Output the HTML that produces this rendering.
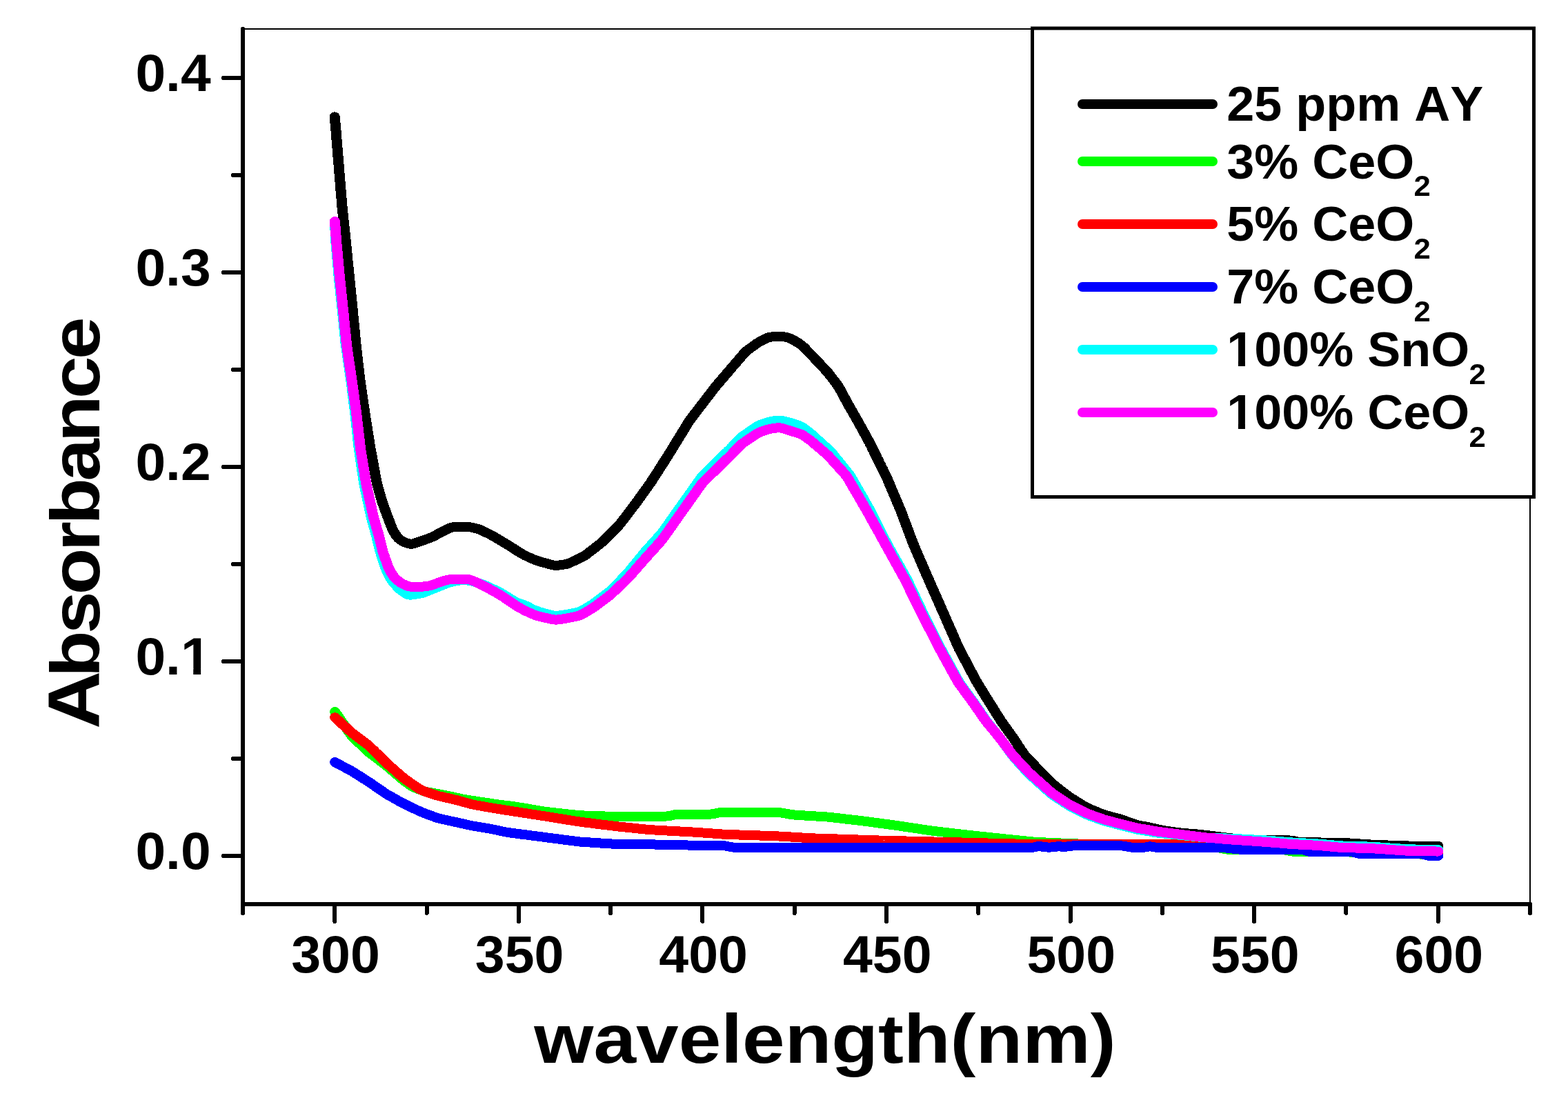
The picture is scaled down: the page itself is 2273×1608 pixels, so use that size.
<!DOCTYPE html>
<html lang="en"><head><meta charset="utf-8"><title>UV-Vis absorbance spectra</title>
<style>
html,body{margin:0;padding:0;background:#fff;}
body{width:2273px;height:1608px;overflow:hidden;}
svg{display:block;position:absolute;left:0;top:0;}
text{font-family:"Liberation Sans",sans-serif;font-weight:bold;fill:#000;font-kerning:none;white-space:pre;}
.ax{stroke:#000;fill:none;stroke-linecap:round;shape-rendering:crispEdges;}
.cv{fill:none;stroke-linejoin:round;stroke-linecap:round;shape-rendering:crispEdges;}
</style></head><body>
<svg width="2273" height="1608" viewBox="0 0 2273 1608">
<rect x="0" y="0" width="2273" height="1608" fill="#ffffff"/>
<g class="ax" stroke-width="2" style="stroke-linecap:butt">
<line x1="352" y1="42" x2="2219" y2="42"/>
<line x1="2218" y1="42" x2="2218" y2="1311"/>
</g>
<g class="cv" stroke-width="14.0" transform="scale(1.075,1)">
<path d="M451.4,169.4 L451.6,171.9 L451.8,174.4 L452.0,176.9 L452.2,179.4 L452.4,181.9 L452.6,184.4 L452.8,186.9 L453.0,189.3 L453.2,191.8 L453.3,194.3 L453.5,196.8 L453.7,199.3 L453.9,201.8 L454.1,204.3 L454.3,206.8 L454.5,209.3 L454.7,211.8 L454.9,214.3 L455.1,216.8 L455.2,219.3 L455.4,221.8 L455.6,224.3 L455.8,226.8 L456.0,229.2 L456.2,231.7 L456.4,234.2 L456.6,236.7 L456.8,239.2 L457.0,241.7 L457.1,244.2 L457.3,246.7 L457.5,249.2 L457.7,251.7 L457.9,254.2 L458.1,256.7 L458.3,259.2 L458.5,261.7 L458.7,264.2 L458.9,266.7 L459.0,269.1 L459.2,271.6 L459.4,274.1 L459.6,276.6 L459.8,279.1 L460.0,281.6 L460.2,284.1 L460.4,286.6 L460.6,289.1 L460.8,291.6 L460.9,294.1 L461.1,296.6 L461.3,299.1 L461.6,301.6 L461.8,304.0 L462.0,306.5 L462.3,309.0 L462.5,311.5 L462.8,314.0 L463.0,316.5 L463.2,319.0 L463.5,321.5 L463.7,324.0 L464.0,326.4 L464.2,328.9 L464.5,331.4 L464.7,333.9 L465.0,336.4 L465.2,338.9 L465.4,341.4 L465.7,343.9 L465.9,346.3 L466.2,348.8 L466.4,351.3 L466.6,353.8 L466.9,356.3 L467.1,358.8 L467.3,361.3 L467.6,363.8 L467.8,366.3 L468.0,368.8 L468.3,371.2 L468.5,373.7 L468.7,376.2 L468.9,378.7 L469.2,381.2 L469.4,383.7 L469.6,386.2 L469.9,388.7 L470.1,391.2 L470.3,393.6 L470.6,396.1 L470.8,398.6 L471.0,401.1 L471.3,403.6 L471.5,406.1 L471.7,408.6 L472.0,411.1 L472.2,413.6 L472.4,416.1 L472.7,418.5 L472.9,421.0 L473.1,423.5 L473.4,426.0 L473.6,428.5 L473.8,431.0 L474.0,433.5 L474.3,436.0 L474.5,438.5 L474.7,441.0 L475.0,443.4 L475.2,445.9 L475.4,448.4 L475.7,450.9 L475.9,453.4 L476.1,455.9 L476.3,458.4 L476.5,460.9 L476.8,463.4 L477.0,465.9 L477.2,468.3 L477.4,470.8 L477.6,473.3 L477.9,475.8 L478.1,478.3 L478.3,480.8 L478.5,483.3 L478.7,485.8 L479.0,488.3 L479.2,490.8 L479.4,493.3 L479.6,495.7 L479.9,498.2 L480.1,500.7 L480.3,503.2 L480.6,505.7 L480.9,508.2 L481.1,510.7 L481.4,513.2 L481.7,515.6 L481.9,518.1 L482.2,520.6 L482.4,523.1 L482.7,525.6 L483.0,528.1 L483.2,530.6 L483.5,533.0 L483.8,535.5 L484.0,538.0 L484.3,540.5 L484.6,543.0 L484.8,545.5 L485.1,548.0 L485.4,550.4 L485.7,552.9 L486.0,555.4 L486.4,557.9 L486.7,560.3 L487.0,562.8 L487.4,565.3 L487.7,567.8 L488.1,570.2 L488.4,572.7 L488.7,575.2 L489.1,577.7 L489.4,580.2 L489.7,582.6 L490.1,585.1 L490.4,587.6 L490.7,590.1 L491.1,592.5 L491.4,595.0 L491.8,597.5 L492.1,600.0 L492.5,602.4 L492.8,604.9 L493.2,607.4 L493.5,609.8 L493.9,612.3 L494.3,614.8 L494.6,617.3 L495.0,619.7 L495.4,622.2 L495.7,624.7 L496.1,627.1 L496.4,629.6 L496.8,632.1 L497.2,634.6 L497.5,637.0 L497.9,639.5 L498.3,642.0 L498.6,644.4 L499.0,646.9 L499.4,649.4 L499.8,651.8 L500.2,654.3 L500.6,656.8 L501.0,659.2 L501.5,661.7 L501.9,664.1 L502.3,666.6 L502.7,669.1 L503.2,671.5 L503.6,674.0 L504.0,676.4 L504.4,678.9 L504.9,681.4 L505.3,683.8 L505.7,686.3 L506.1,688.7 L506.6,691.2 L507.0,693.7 L507.4,696.1 L507.9,698.6 L508.4,701.0 L509.0,703.4 L509.6,705.8 L510.2,708.3 L510.8,710.7 L511.5,713.1 L512.1,715.5 L512.7,717.9 L513.3,720.3 L514.0,722.7 L514.6,725.1 L515.4,727.5 L516.1,729.8 L516.9,732.2 L517.7,734.6 L518.5,736.9 L519.3,739.3 L520.1,741.6 L520.9,744.0 L521.7,746.3 L522.5,748.7 L523.3,751.0 L524.1,753.3 L525.0,755.7 L525.8,758.0 L526.7,760.3 L527.5,762.7 L528.4,765.0 L529.3,767.3 L530.3,769.5 L531.4,771.7 L532.6,773.8 L533.9,775.9 L535.3,777.9 L536.7,779.8 L538.4,781.5 L540.2,783.0 L542.2,784.3 L544.2,785.5 L546.3,786.5 L548.5,787.4 L550.7,788.1 L552.9,788.6 L555.1,788.7 L557.3,788.3 L559.5,787.6 L561.7,786.8 L563.9,786.0 L566.1,785.1 L568.3,784.3 L570.5,783.5 L572.7,782.7 L574.9,781.9 L577.1,781.1 L579.3,780.2 L581.4,779.3 L583.5,778.2 L585.6,777.1 L587.7,775.9 L589.7,774.7 L591.8,773.5 L593.8,772.3 L595.9,771.2 L597.9,770.0 L600.0,768.9 L602.1,767.7 L604.2,766.7 L606.3,765.7 L608.5,765.0 L610.8,764.4 L613.0,764.2 L615.4,764.1 L617.7,764.1 L620.0,764.1 L622.3,764.1 L624.7,764.1 L627.0,764.1 L629.3,764.1 L631.6,764.2 L634.0,764.4 L636.2,764.8 L638.5,765.3 L640.8,765.9 L643.0,766.5 L645.2,767.2 L647.4,768.1 L649.5,769.1 L651.6,770.2 L653.7,771.3 L655.8,772.3 L657.9,773.4 L660.0,774.5 L662.1,775.6 L664.1,776.8 L666.2,778.1 L668.2,779.4 L670.2,780.6 L672.1,781.9 L674.1,783.2 L676.1,784.5 L678.1,785.8 L680.1,787.1 L682.1,788.4 L684.1,789.7 L686.1,791.0 L688.1,792.3 L690.0,793.7 L692.0,795.0 L693.9,796.4 L695.9,797.7 L697.9,799.1 L699.8,800.4 L701.8,801.7 L703.8,803.0 L705.9,804.2 L707.9,805.4 L710.0,806.4 L712.1,807.5 L714.2,808.5 L716.4,809.5 L718.5,810.5 L720.6,811.5 L722.8,812.4 L725.0,813.2 L727.2,813.9 L729.5,814.7 L731.7,815.4 L733.9,816.0 L736.2,816.7 L738.4,817.3 L740.7,818.0 L742.9,818.6 L745.2,819.2 L747.4,819.7 L749.7,819.9 L752.0,819.8 L754.3,819.5 L756.6,819.2 L758.9,818.8 L761.2,818.4 L763.5,818.0 L765.7,817.3 L767.9,816.4 L770.0,815.4 L772.1,814.3 L774.2,813.2 L776.3,812.1 L778.4,811.1 L780.5,810.0 L782.6,808.9 L784.7,807.8 L786.7,806.6 L788.7,805.4 L790.6,804.0 L792.5,802.5 L794.3,800.9 L796.2,799.4 L798.0,797.9 L799.8,796.3 L801.7,794.8 L803.5,793.3 L805.3,791.7 L807.2,790.2 L809.0,788.7 L810.8,787.1 L812.5,785.4 L814.2,783.7 L815.9,781.9 L817.5,780.2 L819.2,778.4 L820.8,776.6 L822.5,774.9 L824.1,773.1 L825.8,771.3 L827.4,769.5 L829.0,767.8 L830.7,766.0 L832.3,764.2 L833.9,762.4 L835.5,760.5 L836.9,758.6 L838.3,756.6 L839.8,754.6 L841.2,752.6 L842.6,750.7 L844.0,748.7 L845.4,746.7 L846.8,744.7 L848.2,742.7 L849.6,740.7 L851.1,738.7 L852.5,736.7 L853.9,734.7 L855.3,732.8 L856.7,730.8 L858.1,728.8 L859.5,726.7 L860.8,724.7 L862.2,722.7 L863.5,720.6 L864.9,718.6 L866.3,716.6 L867.6,714.5 L869.0,712.5 L870.3,710.5 L871.7,708.4 L873.0,706.4 L874.4,704.4 L875.7,702.3 L877.1,700.3 L878.4,698.2 L879.6,696.1 L880.9,694.0 L882.1,691.9 L883.4,689.8 L884.7,687.7 L885.9,685.6 L887.2,683.5 L888.4,681.4 L889.7,679.3 L890.9,677.1 L892.2,675.0 L893.4,672.9 L894.7,670.8 L896.0,668.7 L897.2,666.6 L898.5,664.5 L899.7,662.4 L901.0,660.3 L902.2,658.2 L903.4,656.0 L904.6,653.9 L905.9,651.8 L907.1,649.6 L908.3,647.5 L909.5,645.4 L910.7,643.2 L911.9,641.1 L913.2,639.0 L914.4,636.8 L915.6,634.7 L916.8,632.6 L918.0,630.4 L919.2,628.3 L920.5,626.2 L921.7,624.0 L922.9,621.9 L924.1,619.8 L925.3,617.6 L926.5,615.5 L927.8,613.4 L929.0,611.3 L930.3,609.2 L931.7,607.2 L933.1,605.2 L934.5,603.2 L935.9,601.2 L937.3,599.2 L938.8,597.3 L940.2,595.3 L941.6,593.3 L943.0,591.3 L944.4,589.3 L945.8,587.3 L947.3,585.3 L948.7,583.4 L950.1,581.4 L951.5,579.4 L952.9,577.4 L954.3,575.4 L955.8,573.4 L957.2,571.4 L958.6,569.5 L960.0,567.5 L961.4,565.5 L962.8,563.5 L964.3,561.5 L965.7,559.6 L967.2,557.7 L968.7,555.8 L970.2,553.9 L971.8,552.0 L973.3,550.1 L974.8,548.2 L976.3,546.3 L977.8,544.4 L979.3,542.5 L980.8,540.6 L982.4,538.7 L983.9,536.8 L985.4,534.9 L986.9,533.0 L988.4,531.1 L989.9,529.2 L991.4,527.3 L993.0,525.4 L994.5,523.5 L996.0,521.6 L997.5,519.7 L999.0,517.8 L1000.5,515.9 L1002.1,514.0 L1003.6,512.1 L1005.2,510.3 L1007.0,508.7 L1008.8,507.2 L1010.7,505.7 L1012.6,504.2 L1014.5,502.8 L1016.3,501.3 L1018.2,499.8 L1020.1,498.4 L1022.0,497.0 L1024.0,495.7 L1026.0,494.5 L1028.1,493.3 L1030.2,492.2 L1032.3,491.1 L1034.4,490.1 L1036.5,489.2 L1038.8,488.7 L1041.0,488.4 L1043.4,488.2 L1045.7,488.1 L1048.0,488.0 L1050.3,488.0 L1052.7,488.1 L1055.0,488.2 L1057.3,488.4 L1059.6,488.7 L1061.8,489.3 L1064.0,490.1 L1066.1,491.1 L1068.2,492.1 L1070.3,493.3 L1072.3,494.5 L1074.3,495.8 L1076.3,497.1 L1078.2,498.5 L1080.1,499.9 L1081.9,501.5 L1083.6,503.1 L1085.3,504.9 L1086.9,506.7 L1088.5,508.5 L1090.2,510.3 L1091.8,512.1 L1093.4,513.9 L1095.0,515.7 L1096.6,517.5 L1098.2,519.3 L1099.8,521.1 L1101.4,523.0 L1103.0,524.8 L1104.6,526.6 L1106.2,528.4 L1107.8,530.3 L1109.4,532.1 L1111.0,533.9 L1112.5,535.7 L1114.1,537.6 L1115.7,539.4 L1117.2,541.3 L1118.6,543.3 L1120.0,545.3 L1121.5,547.3 L1122.9,549.3 L1124.3,551.2 L1125.7,553.2 L1127.1,555.2 L1128.5,557.2 L1129.8,559.3 L1131.1,561.4 L1132.3,563.5 L1133.4,565.7 L1134.5,567.9 L1135.6,570.1 L1136.7,572.3 L1137.8,574.5 L1138.9,576.7 L1140.0,578.9 L1141.1,581.1 L1142.2,583.3 L1143.3,585.5 L1144.5,587.7 L1145.6,589.9 L1146.8,592.0 L1147.9,594.2 L1149.1,596.4 L1150.3,598.6 L1151.4,600.7 L1152.6,602.9 L1153.7,605.1 L1154.9,607.2 L1156.0,609.4 L1157.2,611.6 L1158.3,613.8 L1159.4,616.0 L1160.6,618.2 L1161.7,620.4 L1162.8,622.6 L1163.9,624.7 L1165.0,626.9 L1166.2,629.1 L1167.3,631.3 L1168.4,633.5 L1169.5,635.7 L1170.6,637.9 L1171.7,640.1 L1172.8,642.3 L1173.8,644.6 L1174.9,646.8 L1175.9,649.1 L1176.9,651.3 L1178.0,653.5 L1179.0,655.8 L1180.0,658.0 L1181.1,660.3 L1182.1,662.5 L1183.1,664.8 L1184.2,667.0 L1185.2,669.2 L1186.2,671.5 L1187.3,673.7 L1188.3,676.0 L1189.3,678.2 L1190.4,680.4 L1191.4,682.7 L1192.4,684.9 L1193.5,687.2 L1194.5,689.4 L1195.4,691.7 L1196.4,694.0 L1197.3,696.3 L1198.2,698.6 L1199.1,700.9 L1200.0,703.2 L1200.9,705.5 L1201.8,707.8 L1202.7,710.1 L1203.6,712.4 L1204.5,714.7 L1205.5,717.0 L1206.4,719.3 L1207.3,721.6 L1208.2,723.9 L1209.1,726.2 L1210.0,728.5 L1210.9,730.9 L1211.8,733.2 L1212.7,735.5 L1213.6,737.8 L1214.5,740.1 L1215.3,742.4 L1216.2,744.7 L1217.0,747.1 L1217.8,749.4 L1218.6,751.8 L1219.4,754.1 L1220.3,756.5 L1221.1,758.8 L1221.9,761.1 L1222.7,763.5 L1223.5,765.8 L1224.4,768.2 L1225.2,770.5 L1226.0,772.9 L1226.8,775.2 L1227.6,777.5 L1228.5,779.9 L1229.3,782.2 L1230.1,784.6 L1230.9,786.9 L1231.8,789.2 L1232.6,791.5 L1233.6,793.9 L1234.5,796.2 L1235.4,798.4 L1236.3,800.7 L1237.2,803.0 L1238.2,805.3 L1239.1,807.6 L1240.0,809.9 L1240.9,812.2 L1241.9,814.5 L1242.8,816.8 L1243.7,819.1 L1244.6,821.4 L1245.5,823.7 L1246.5,826.0 L1247.4,828.3 L1248.3,830.6 L1249.2,832.9 L1250.2,835.2 L1251.1,837.5 L1252.0,839.8 L1253.0,842.1 L1253.9,844.4 L1254.8,846.7 L1255.8,848.9 L1256.7,851.2 L1257.7,853.5 L1258.6,855.8 L1259.5,858.1 L1260.5,860.4 L1261.4,862.7 L1262.4,865.0 L1263.3,867.3 L1264.2,869.5 L1265.2,871.8 L1266.1,874.1 L1267.1,876.4 L1268.0,878.7 L1268.9,881.0 L1269.9,883.3 L1270.8,885.6 L1271.8,887.8 L1272.7,890.1 L1273.6,892.4 L1274.6,894.7 L1275.5,897.0 L1276.4,899.3 L1277.4,901.6 L1278.3,903.9 L1279.2,906.2 L1280.2,908.5 L1281.1,910.8 L1282.0,913.1 L1283.0,915.3 L1283.9,917.6 L1284.8,919.9 L1285.8,922.2 L1286.7,924.5 L1287.6,926.8 L1288.6,929.1 L1289.5,931.4 L1290.4,933.7 L1291.4,936.0 L1292.3,938.2 L1293.3,940.5 L1294.4,942.7 L1295.5,945.0 L1296.6,947.2 L1297.6,949.4 L1298.7,951.6 L1299.8,953.8 L1300.9,956.0 L1302.0,958.2 L1303.1,960.4 L1304.2,962.6 L1305.3,964.9 L1306.4,967.1 L1307.5,969.3 L1308.5,971.5 L1309.6,973.7 L1310.7,975.9 L1311.8,978.1 L1312.9,980.3 L1314.0,982.5 L1315.1,984.8 L1316.2,987.0 L1317.3,989.1 L1318.5,991.3 L1319.7,993.4 L1320.9,995.6 L1322.1,997.7 L1323.4,999.8 L1324.6,1001.9 L1325.8,1004.1 L1327.1,1006.2 L1328.3,1008.3 L1329.5,1010.4 L1330.8,1012.5 L1332.0,1014.7 L1333.2,1016.8 L1334.5,1018.9 L1335.7,1021.0 L1337.0,1023.2 L1338.2,1025.3 L1339.4,1027.4 L1340.7,1029.5 L1341.9,1031.6 L1343.1,1033.8 L1344.4,1035.9 L1345.6,1038.0 L1346.8,1040.1 L1348.1,1042.2 L1349.3,1044.3 L1350.6,1046.4 L1352.0,1048.5 L1353.3,1050.5 L1354.7,1052.5 L1356.0,1054.6 L1357.4,1056.6 L1358.7,1058.6 L1360.1,1060.7 L1361.4,1062.7 L1362.8,1064.7 L1364.1,1066.8 L1365.5,1068.8 L1366.8,1070.9 L1368.1,1073.0 L1369.4,1075.1 L1370.7,1077.1 L1371.9,1079.2 L1373.2,1081.3 L1374.5,1083.4 L1375.8,1085.5 L1377.1,1087.6 L1378.4,1089.7 L1379.7,1091.7 L1381.0,1093.8 L1382.5,1095.7 L1384.0,1097.6 L1385.6,1099.4 L1387.2,1101.2 L1388.8,1103.0 L1390.4,1104.8 L1392.1,1106.6 L1393.7,1108.4 L1395.3,1110.2 L1396.9,1112.0 L1398.5,1113.8 L1400.2,1115.6 L1401.8,1117.4 L1403.4,1119.2 L1405.0,1121.0 L1406.6,1122.8 L1408.2,1124.6 L1409.9,1126.4 L1411.5,1128.2 L1413.1,1130.0 L1414.7,1131.8 L1416.3,1133.6 L1418.0,1135.3 L1419.8,1136.9 L1421.6,1138.5 L1423.4,1140.1 L1425.2,1141.6 L1427.1,1143.1 L1428.9,1144.7 L1430.8,1146.2 L1432.6,1147.7 L1434.4,1149.2 L1436.3,1150.8 L1438.1,1152.3 L1440.0,1153.8 L1441.9,1155.3 L1443.8,1156.7 L1445.8,1158.0 L1447.7,1159.3 L1449.7,1160.6 L1451.7,1162.0 L1453.7,1163.3 L1455.7,1164.6 L1457.6,1165.9 L1459.6,1167.2 L1461.6,1168.5 L1463.6,1169.8 L1465.6,1171.0 L1467.7,1172.0 L1469.9,1173.0 L1472.0,1174.0 L1474.2,1174.9 L1476.3,1175.9 L1478.5,1176.8 L1480.6,1177.8 L1482.8,1178.8 L1484.9,1179.7 L1487.1,1180.6 L1489.3,1181.4 L1491.5,1182.1 L1493.8,1182.8 L1496.0,1183.4 L1498.3,1184.1 L1500.5,1184.7 L1502.8,1185.4 L1505.0,1186.0 L1507.3,1186.7 L1509.5,1187.3 L1511.7,1188.0 L1513.9,1188.8 L1516.1,1189.6 L1518.3,1190.5 L1520.5,1191.3 L1522.7,1192.1 L1524.9,1193.0 L1527.1,1193.8 L1529.3,1194.7 L1531.5,1195.5 L1533.7,1196.2 L1536.0,1196.8 L1538.3,1197.2 L1540.5,1197.6 L1542.8,1198.0 L1545.1,1198.4 L1547.4,1198.9 L1549.7,1199.5 L1552.0,1200.0 L1554.2,1200.6 L1556.5,1201.1 L1558.8,1201.7 L1561.0,1202.2 L1563.3,1202.8 L1565.6,1203.3 L1567.9,1203.8 L1570.2,1204.2 L1572.5,1204.6 L1574.8,1205.0 L1577.1,1205.3 L1579.4,1205.7 L1581.7,1206.1 L1584.0,1206.4 L1586.3,1206.8 L1588.6,1207.1 L1590.9,1207.4 L1593.2,1207.7 L1595.5,1207.9 L1597.8,1208.1 L1600.2,1208.3 L1602.5,1208.5 L1604.8,1208.7 L1607.1,1208.8 L1609.4,1209.0 L1611.8,1209.2 L1614.1,1209.5 L1616.4,1209.7 L1618.7,1210.0 L1621.0,1210.3 L1623.3,1210.6 L1625.6,1210.9 L1628.0,1211.1 L1630.3,1211.4 L1632.6,1211.7 L1634.9,1212.0 L1637.2,1212.3 L1639.5,1212.6 L1641.8,1212.9 L1644.1,1213.2 L1646.4,1213.5 L1648.7,1213.8 L1651.1,1214.1 L1653.4,1214.5 L1655.7,1214.8 L1658.0,1215.1 L1660.3,1215.3 L1662.6,1215.6 L1664.9,1215.7 L1667.3,1215.9 L1669.6,1216.1 L1671.9,1216.3 L1674.2,1216.5 L1676.5,1216.7 L1678.9,1216.8 L1681.2,1217.0 L1683.5,1217.2 L1685.8,1217.4 L1688.2,1217.6 L1690.5,1217.7 L1692.8,1217.9 L1695.1,1218.0 L1697.4,1218.1 L1699.8,1218.1 L1702.1,1218.1 L1704.4,1218.2 L1706.8,1218.2 L1709.1,1218.2 L1711.4,1218.2 L1713.7,1218.2 L1716.1,1218.2 L1718.4,1218.3 L1720.7,1218.3 L1723.0,1218.3 L1725.4,1218.3 L1727.7,1218.3 L1730.0,1218.3 L1732.4,1218.3 L1734.7,1218.4 L1737.0,1218.4 L1739.3,1218.5 L1741.6,1218.7 L1743.9,1219.1 L1746.2,1219.6 L1748.5,1220.1 L1750.7,1220.6 L1753.0,1221.0 L1755.3,1221.2 L1757.7,1221.3 L1760.0,1221.3 L1762.3,1221.3 L1764.6,1221.4 L1767.0,1221.4 L1769.3,1221.4 L1771.6,1221.4 L1774.0,1221.4 L1776.3,1221.4 L1778.6,1221.4 L1780.9,1221.5 L1783.3,1221.5 L1785.6,1221.5 L1787.9,1221.5 L1790.2,1221.5 L1792.6,1221.5 L1794.9,1221.5 L1797.2,1221.5 L1799.6,1221.6 L1801.9,1221.6 L1804.2,1221.6 L1806.5,1221.6 L1808.9,1221.7 L1811.2,1221.8 L1813.5,1222.0 L1815.8,1222.1 L1818.1,1222.3 L1820.5,1222.5 L1822.8,1222.7 L1825.1,1222.8 L1827.4,1223.0 L1829.8,1223.2 L1832.1,1223.3 L1834.4,1223.5 L1836.7,1223.7 L1839.0,1223.9 L1841.4,1224.0 L1843.7,1224.2 L1846.0,1224.4 L1848.3,1224.5 L1850.7,1224.7 L1853.0,1224.8 L1855.3,1224.9 L1857.6,1225.0 L1860.0,1225.1 L1862.3,1225.2 L1864.6,1225.3 L1866.9,1225.3 L1869.3,1225.4 L1871.6,1225.5 L1873.9,1225.6 L1876.2,1225.7 L1878.6,1225.8 L1880.9,1225.9 L1883.2,1226.0 L1885.5,1226.0 L1887.9,1226.1 L1890.2,1226.2 L1892.5,1226.3 L1894.9,1226.4 L1897.2,1226.4 L1899.5,1226.5 L1901.8,1226.5 L1904.2,1226.5 L1906.5,1226.5 L1908.8,1226.5 L1911.1,1226.5 L1913.5,1226.5 L1915.8,1226.5 L1918.1,1226.5 L1920.5,1226.5 L1922.8,1226.5 L1925.1,1226.5 L1927.4,1226.5 L1929.8,1226.5 L1932.1,1226.5 L1934.4,1226.5 L1936.7,1226.5 L1939.1,1226.5" stroke="#000000"/>
<path d="M451.7,1032.1 L453.0,1034.2 L454.4,1036.2 L455.7,1038.3 L457.0,1040.3 L458.4,1042.4 L459.7,1044.4 L461.0,1046.5 L462.3,1048.5 L463.7,1050.6 L465.0,1052.6 L466.3,1054.7 L467.6,1056.7 L469.0,1058.8 L470.3,1060.9 L471.6,1062.9 L473.0,1064.9 L474.4,1066.9 L476.0,1068.7 L477.6,1070.5 L479.3,1072.2 L481.0,1073.9 L482.7,1075.7 L484.3,1077.4 L486.0,1079.1 L487.7,1080.8 L489.4,1082.6 L491.1,1084.3 L492.8,1086.0 L494.5,1087.7 L496.2,1089.4 L497.9,1091.1 L499.7,1092.6 L501.6,1094.2 L503.4,1095.7 L505.3,1097.2 L507.1,1098.7 L509.0,1100.2 L510.8,1101.7 L512.7,1103.2 L514.5,1104.8 L516.4,1106.3 L518.2,1107.8 L520.0,1109.3 L521.9,1110.9 L523.6,1112.5 L525.4,1114.1 L527.2,1115.8 L528.9,1117.4 L530.7,1119.0 L532.5,1120.7 L534.2,1122.3 L536.0,1123.9 L537.7,1125.5 L539.5,1127.2 L541.3,1128.8 L543.1,1130.4 L544.9,1132.0 L546.7,1133.5 L548.6,1135.0 L550.5,1136.4 L552.4,1137.9 L554.3,1139.3 L556.3,1140.5 L558.4,1141.6 L560.5,1142.6 L562.7,1143.5 L564.8,1144.4 L567.0,1145.3 L569.2,1146.2 L571.4,1147.0 L573.6,1147.7 L575.9,1148.2 L578.1,1148.7 L580.4,1149.1 L582.7,1149.6 L585.0,1150.0 L587.3,1150.5 L589.6,1150.9 L591.9,1151.4 L594.2,1151.8 L596.4,1152.3 L598.7,1152.7 L601.0,1153.2 L603.3,1153.7 L605.6,1154.2 L607.8,1154.7 L610.1,1155.3 L612.4,1155.8 L614.6,1156.4 L616.9,1156.9 L619.2,1157.5 L621.5,1158.0 L623.7,1158.5 L626.0,1159.0 L628.3,1159.4 L630.6,1159.8 L632.9,1160.2 L635.2,1160.6 L637.5,1160.9 L639.8,1161.3 L642.1,1161.7 L644.4,1162.0 L646.7,1162.4 L649.0,1162.8 L651.3,1163.1 L653.6,1163.5 L655.9,1163.9 L658.2,1164.3 L660.5,1164.6 L662.8,1165.0 L665.1,1165.4 L667.4,1165.7 L669.7,1166.1 L672.0,1166.5 L674.3,1166.8 L676.6,1167.1 L678.9,1167.4 L681.2,1167.6 L683.6,1167.9 L685.9,1168.2 L688.2,1168.5 L690.5,1168.8 L692.8,1169.2 L695.1,1169.6 L697.4,1170.0 L699.7,1170.4 L702.0,1170.8 L704.3,1171.2 L706.6,1171.6 L708.8,1172.0 L711.1,1172.4 L713.4,1172.9 L715.7,1173.3 L718.0,1173.7 L720.3,1174.1 L722.6,1174.5 L724.9,1174.9 L727.2,1175.4 L729.5,1175.8 L731.8,1176.2 L734.1,1176.6 L736.4,1176.9 L738.7,1177.2 L741.0,1177.5 L743.3,1177.7 L745.6,1178.0 L747.9,1178.3 L750.3,1178.6 L752.6,1178.8 L754.9,1179.1 L757.2,1179.4 L759.5,1179.7 L761.8,1179.9 L764.1,1180.2 L766.4,1180.5 L768.7,1180.8 L771.1,1181.0 L773.4,1181.3 L775.7,1181.6 L778.0,1181.8 L780.3,1182.1 L782.6,1182.2 L785.0,1182.4 L787.3,1182.5 L789.6,1182.6 L791.9,1182.6 L794.2,1182.7 L796.6,1182.8 L798.9,1182.9 L801.2,1183.0 L803.5,1183.1 L805.9,1183.2 L808.2,1183.3 L810.5,1183.3 L812.8,1183.4 L815.2,1183.5 L817.5,1183.6 L819.8,1183.7 L822.1,1183.8 L824.5,1183.9 L826.8,1183.9 L829.1,1184.0 L831.4,1184.0 L833.8,1184.0 L836.1,1184.0 L838.4,1184.0 L840.7,1184.0 L843.1,1184.0 L845.4,1184.0 L847.7,1184.0 L850.0,1184.0 L852.4,1184.0 L854.7,1184.0 L857.0,1184.0 L859.4,1184.0 L861.7,1184.0 L864.0,1184.0 L866.3,1184.0 L868.7,1184.0 L871.0,1184.0 L873.3,1184.0 L875.6,1184.0 L878.0,1183.9 L880.3,1183.9 L882.6,1183.9 L884.9,1183.8 L887.3,1183.8 L889.6,1183.7 L891.9,1183.7 L894.2,1183.6 L896.6,1183.6 L898.9,1183.5 L901.2,1183.3 L903.4,1182.9 L905.7,1182.3 L907.9,1181.7 L910.2,1181.2 L912.5,1181.0 L914.8,1180.9 L917.1,1180.8 L919.4,1180.8 L921.8,1180.7 L924.1,1180.6 L926.4,1180.6 L928.7,1180.5 L931.1,1180.5 L933.4,1180.5 L935.7,1180.5 L938.0,1180.5 L940.4,1180.5 L942.7,1180.5 L945.0,1180.5 L947.3,1180.5 L949.7,1180.5 L952.0,1180.5 L954.3,1180.5 L956.6,1180.5 L959.0,1180.5 L961.3,1180.3 L963.5,1179.9 L965.8,1179.3 L968.0,1178.7 L970.2,1178.3 L972.5,1178.1 L974.9,1178.0 L977.2,1178.0 L979.5,1178.0 L981.8,1178.0 L984.2,1178.0 L986.5,1178.0 L988.8,1178.0 L991.1,1178.0 L993.5,1178.0 L995.8,1178.0 L998.1,1178.0 L1000.4,1178.0 L1002.8,1178.0 L1005.1,1178.0 L1007.4,1178.0 L1009.7,1178.0 L1012.1,1178.0 L1014.4,1178.0 L1016.7,1178.0 L1019.0,1178.0 L1021.4,1178.0 L1023.7,1178.0 L1026.0,1178.0 L1028.3,1178.0 L1030.7,1178.0 L1033.0,1178.0 L1035.3,1178.0 L1037.7,1178.0 L1040.0,1178.0 L1042.3,1178.0 L1044.6,1178.0 L1047.0,1178.0 L1049.3,1178.1 L1051.6,1178.2 L1053.9,1178.6 L1056.2,1178.9 L1058.5,1179.4 L1060.8,1179.8 L1063.1,1180.2 L1065.3,1180.7 L1067.6,1181.1 L1069.9,1181.4 L1072.3,1181.6 L1074.6,1181.8 L1076.9,1182.0 L1079.2,1182.1 L1081.5,1182.3 L1083.9,1182.4 L1086.2,1182.6 L1088.5,1182.7 L1090.8,1182.9 L1093.1,1183.0 L1095.5,1183.2 L1097.8,1183.3 L1100.1,1183.5 L1102.4,1183.6 L1104.8,1183.8 L1107.1,1183.9 L1109.4,1184.1 L1111.7,1184.2 L1114.0,1184.4 L1116.4,1184.6 L1118.7,1184.8 L1121.0,1185.1 L1123.3,1185.4 L1125.6,1185.7 L1127.9,1185.9 L1130.2,1186.2 L1132.5,1186.5 L1134.8,1186.8 L1137.2,1187.1 L1139.5,1187.4 L1141.8,1187.7 L1144.1,1187.9 L1146.4,1188.2 L1148.7,1188.5 L1151.0,1188.8 L1153.3,1189.1 L1155.6,1189.4 L1158.0,1189.7 L1160.3,1189.9 L1162.6,1190.2 L1164.9,1190.6 L1167.2,1190.9 L1169.5,1191.2 L1171.8,1191.6 L1174.1,1191.9 L1176.4,1192.2 L1178.7,1192.6 L1181.0,1192.9 L1183.3,1193.2 L1185.6,1193.6 L1187.9,1193.9 L1190.2,1194.2 L1192.5,1194.6 L1194.8,1194.9 L1197.2,1195.2 L1199.5,1195.6 L1201.8,1195.9 L1204.1,1196.2 L1206.4,1196.6 L1208.7,1196.9 L1211.0,1197.3 L1213.3,1197.6 L1215.6,1198.0 L1217.9,1198.4 L1220.2,1198.8 L1222.5,1199.1 L1224.8,1199.5 L1227.1,1199.9 L1229.4,1200.2 L1231.7,1200.6 L1234.0,1201.0 L1236.3,1201.3 L1238.6,1201.7 L1240.9,1202.1 L1243.2,1202.5 L1245.5,1202.8 L1247.8,1203.2 L1250.1,1203.6 L1252.4,1203.9 L1254.7,1204.3 L1257.0,1204.6 L1259.3,1204.9 L1261.6,1205.2 L1263.9,1205.5 L1266.2,1205.8 L1268.5,1206.1 L1270.8,1206.4 L1273.2,1206.7 L1275.5,1207.0 L1277.8,1207.3 L1280.1,1207.6 L1282.4,1207.9 L1284.7,1208.2 L1287.0,1208.5 L1289.3,1208.8 L1291.6,1209.0 L1293.9,1209.3 L1296.3,1209.6 L1298.6,1209.9 L1300.9,1210.2 L1303.2,1210.5 L1305.5,1210.8 L1307.8,1211.0 L1310.1,1211.3 L1312.4,1211.6 L1314.7,1211.8 L1317.1,1212.1 L1319.4,1212.4 L1321.7,1212.6 L1324.0,1212.9 L1326.3,1213.2 L1328.6,1213.4 L1330.9,1213.7 L1333.2,1214.0 L1335.6,1214.2 L1337.9,1214.5 L1340.2,1214.8 L1342.5,1215.0 L1344.8,1215.3 L1347.1,1215.5 L1349.4,1215.8 L1351.7,1216.1 L1354.1,1216.3 L1356.4,1216.6 L1358.7,1216.8 L1361.0,1217.1 L1363.3,1217.3 L1365.6,1217.6 L1367.9,1217.8 L1370.3,1218.1 L1372.6,1218.3 L1374.9,1218.6 L1377.2,1218.8 L1379.5,1219.0 L1381.8,1219.3 L1384.1,1219.5 L1386.5,1219.8 L1388.8,1220.0 L1391.1,1220.3 L1393.4,1220.5 L1395.7,1220.7 L1398.0,1220.9 L1400.4,1221.0 L1402.7,1221.1 L1405.0,1221.2 L1407.3,1221.4 L1409.7,1221.5 L1412.0,1221.6 L1414.3,1221.7 L1416.6,1221.8 L1419.0,1222.0 L1421.3,1222.1 L1423.6,1222.2 L1425.9,1222.3 L1428.2,1222.4 L1430.6,1222.5 L1432.9,1222.6 L1435.2,1222.7 L1437.5,1222.8 L1439.9,1222.9 L1442.2,1223.0 L1444.5,1223.1 L1446.8,1223.2 L1449.2,1223.3 L1451.5,1223.4 L1453.8,1223.5 L1456.1,1223.6 L1458.5,1223.7 L1460.8,1223.8 L1463.1,1223.9 L1465.4,1224.0 L1467.8,1224.1 L1470.1,1224.2 L1472.4,1224.3 L1474.7,1224.4 L1477.1,1224.5 L1479.4,1224.6 L1481.7,1224.7 L1484.0,1224.8 L1486.3,1224.9 L1488.7,1225.0 L1491.0,1225.1 L1493.3,1225.2 L1495.6,1225.2 L1498.0,1225.3 L1500.3,1225.4 L1502.6,1225.5 L1504.9,1225.5 L1507.3,1225.6 L1509.6,1225.7 L1511.9,1225.8 L1514.2,1225.8 L1516.6,1225.9 L1518.9,1226.0 L1521.2,1226.1 L1523.5,1226.1 L1525.9,1226.2 L1528.2,1226.3 L1530.5,1226.4 L1532.8,1226.4 L1535.2,1226.5 L1537.5,1226.6 L1539.8,1226.7 L1542.1,1226.7 L1544.5,1226.8 L1546.8,1226.9 L1549.1,1227.0 L1551.4,1227.0 L1553.8,1227.1 L1556.1,1227.2 L1558.4,1227.3 L1560.7,1227.3 L1563.1,1227.4 L1565.4,1227.5 L1567.7,1227.6 L1570.0,1227.6 L1572.4,1227.7 L1574.7,1227.8 L1577.0,1227.9 L1579.3,1227.9 L1581.7,1228.0 L1584.0,1228.0 L1586.3,1228.1 L1588.6,1228.1 L1591.0,1228.1 L1593.3,1228.1 L1595.6,1228.2 L1597.9,1228.2 L1600.3,1228.2 L1602.6,1228.3 L1604.9,1228.3 L1607.2,1228.3 L1609.6,1228.3 L1611.9,1228.4 L1614.2,1228.4 L1616.6,1228.4 L1618.9,1228.5 L1621.2,1228.5 L1623.5,1228.5 L1625.9,1228.6 L1628.2,1228.6 L1630.5,1228.6 L1632.8,1228.6 L1635.2,1228.7 L1637.5,1228.7 L1639.8,1228.8 L1642.1,1229.0 L1644.4,1229.4 L1646.7,1229.9 L1648.9,1230.5 L1651.2,1231.0 L1653.5,1231.4 L1655.8,1231.7 L1658.1,1231.9 L1660.4,1231.9 L1662.7,1231.9 L1665.1,1231.9 L1667.4,1231.9 L1669.7,1231.9 L1672.0,1231.9 L1674.4,1231.9 L1676.7,1231.9 L1679.0,1231.9 L1681.3,1231.9 L1683.7,1231.9 L1686.0,1231.9 L1688.3,1231.9 L1690.7,1231.9 L1693.0,1231.9 L1695.3,1231.9 L1697.6,1231.9 L1700.0,1231.9 L1702.3,1231.9 L1704.6,1231.9 L1706.9,1231.9 L1709.3,1231.9 L1711.6,1231.9 L1713.9,1231.9 L1716.2,1231.9 L1718.6,1231.9 L1720.9,1231.9 L1723.2,1231.9 L1725.5,1231.9 L1727.9,1232.0 L1730.2,1232.1 L1732.5,1232.5 L1734.7,1232.9 L1737.0,1233.4 L1739.3,1233.9 L1741.6,1234.4 L1743.9,1234.7 L1746.2,1234.9 L1748.5,1235.0 L1750.8,1235.0 L1753.2,1235.0 L1755.5,1235.0 L1757.8,1235.0 L1760.1,1235.0 L1762.5,1235.0 L1764.8,1235.0 L1767.1,1235.0 L1769.4,1235.0 L1771.8,1235.0 L1774.1,1235.0 L1776.4,1235.0 L1778.7,1235.0 L1781.1,1235.0 L1783.4,1235.0 L1785.7,1235.0 L1788.0,1235.0 L1790.4,1235.0 L1792.7,1235.0 L1795.0,1235.0 L1797.3,1235.0 L1799.7,1235.0 L1802.0,1235.0 L1804.3,1235.0 L1806.6,1235.0 L1809.0,1235.0 L1811.3,1235.0 L1813.6,1235.1 L1815.9,1235.2 L1818.3,1235.4 L1820.6,1235.6 L1822.9,1235.9 L1825.2,1236.1 L1827.5,1236.3 L1829.8,1236.5 L1832.2,1236.8 L1834.5,1237.0 L1836.8,1237.1 L1839.1,1237.2 L1841.4,1237.3 L1843.8,1237.3 L1846.1,1237.3 L1848.4,1237.4 L1850.7,1237.4 L1853.1,1237.4 L1855.4,1237.4 L1857.7,1237.5 L1860.0,1237.5 L1862.4,1237.5 L1864.7,1237.5 L1867.0,1237.6 L1869.4,1237.6 L1871.7,1237.6 L1874.0,1237.6 L1876.3,1237.7 L1878.7,1237.7 L1881.0,1237.7 L1883.3,1237.7 L1885.6,1237.8 L1888.0,1237.8 L1890.3,1237.8 L1892.6,1237.8 L1894.9,1237.9 L1897.3,1237.9 L1899.6,1237.9 L1901.9,1237.9 L1904.2,1238.0 L1906.6,1238.0 L1908.9,1238.1 L1911.2,1238.3 L1913.5,1238.4 L1915.9,1238.6 L1918.2,1238.7 L1920.5,1238.8 L1922.8,1239.0 L1925.1,1239.1 L1927.5,1239.3 L1929.8,1239.4 L1932.1,1239.6 L1934.4,1239.7 L1936.7,1239.9 L1939.1,1240.0" stroke="#00ff00"/>
<path d="M451.7,1040.2 L453.4,1041.9 L455.2,1043.6 L456.9,1045.3 L458.6,1047.0 L460.3,1048.7 L462.0,1050.4 L463.8,1052.1 L465.5,1053.7 L467.2,1055.4 L468.9,1057.1 L470.6,1058.8 L472.4,1060.5 L474.1,1062.1 L475.9,1063.7 L477.8,1065.2 L479.6,1066.7 L481.5,1068.2 L483.4,1069.7 L485.2,1071.2 L487.1,1072.7 L489.0,1074.2 L490.8,1075.7 L492.7,1077.2 L494.5,1078.7 L496.4,1080.3 L498.1,1081.9 L499.8,1083.6 L501.5,1085.4 L503.1,1087.1 L504.8,1088.9 L506.4,1090.7 L508.1,1092.4 L509.7,1094.2 L511.4,1096.0 L513.0,1097.7 L514.7,1099.5 L516.3,1101.3 L518.0,1103.0 L519.6,1104.8 L521.3,1106.5 L523.0,1108.2 L524.8,1109.9 L526.5,1111.5 L528.3,1113.1 L530.0,1114.8 L531.8,1116.4 L533.5,1118.1 L535.3,1119.7 L537.0,1121.4 L538.8,1123.0 L540.5,1124.7 L542.3,1126.3 L544.1,1127.9 L546.0,1129.4 L547.9,1130.9 L549.8,1132.3 L551.7,1133.7 L553.6,1135.2 L555.5,1136.6 L557.4,1138.0 L559.3,1139.5 L561.2,1140.9 L563.1,1142.3 L565.0,1143.7 L567.0,1145.0 L569.1,1146.0 L571.3,1146.9 L573.5,1147.8 L575.7,1148.6 L577.9,1149.4 L580.1,1150.2 L582.3,1151.0 L584.5,1151.8 L586.7,1152.5 L588.9,1153.3 L591.1,1154.0 L593.4,1154.6 L595.7,1155.2 L597.9,1155.7 L600.2,1156.3 L602.5,1156.8 L604.8,1157.4 L607.0,1157.9 L609.3,1158.5 L611.6,1159.0 L613.8,1159.6 L616.1,1160.2 L618.3,1160.9 L620.6,1161.6 L622.8,1162.2 L625.1,1162.9 L627.3,1163.6 L629.5,1164.2 L631.8,1164.9 L634.0,1165.5 L636.3,1166.2 L638.6,1166.7 L640.8,1167.2 L643.1,1167.6 L645.4,1168.1 L647.7,1168.5 L650.0,1168.9 L652.3,1169.4 L654.6,1169.8 L656.9,1170.2 L659.2,1170.7 L661.5,1171.1 L663.8,1171.5 L666.1,1171.9 L668.4,1172.3 L670.7,1172.7 L673.0,1173.1 L675.3,1173.5 L677.6,1173.9 L679.9,1174.3 L682.2,1174.7 L684.5,1175.1 L686.8,1175.5 L689.1,1175.9 L691.4,1176.3 L693.7,1176.7 L696.0,1177.0 L698.3,1177.4 L700.6,1177.8 L702.9,1178.2 L705.2,1178.6 L707.5,1178.9 L709.8,1179.3 L712.1,1179.7 L714.4,1180.1 L716.7,1180.5 L719.0,1180.9 L721.3,1181.2 L723.6,1181.6 L725.9,1182.0 L728.2,1182.4 L730.5,1182.8 L732.8,1183.1 L735.1,1183.5 L737.4,1183.9 L739.7,1184.3 L742.0,1184.7 L744.3,1185.1 L746.6,1185.5 L748.9,1185.9 L751.2,1186.3 L753.5,1186.7 L755.8,1187.1 L758.1,1187.5 L760.3,1187.9 L762.6,1188.3 L764.9,1188.7 L767.2,1189.1 L769.5,1189.5 L771.8,1189.9 L774.1,1190.3 L776.4,1190.6 L778.7,1191.0 L781.0,1191.4 L783.3,1191.7 L785.7,1192.1 L788.0,1192.4 L790.3,1192.7 L792.6,1193.0 L794.9,1193.3 L797.2,1193.6 L799.5,1193.9 L801.8,1194.2 L804.1,1194.6 L806.4,1194.9 L808.8,1195.2 L811.1,1195.5 L813.4,1195.8 L815.7,1196.1 L818.0,1196.4 L820.3,1196.7 L822.6,1197.0 L824.9,1197.3 L827.2,1197.6 L829.5,1197.9 L831.9,1198.2 L834.2,1198.5 L836.5,1198.7 L838.8,1199.0 L841.1,1199.2 L843.4,1199.5 L845.8,1199.8 L848.1,1200.0 L850.4,1200.3 L852.7,1200.5 L855.0,1200.8 L857.3,1201.1 L859.6,1201.3 L862.0,1201.6 L864.3,1201.9 L866.6,1202.1 L868.9,1202.4 L871.2,1202.6 L873.5,1202.9 L875.9,1203.1 L878.2,1203.2 L880.5,1203.4 L882.8,1203.5 L885.2,1203.6 L887.5,1203.8 L889.8,1203.9 L892.1,1204.0 L894.4,1204.2 L896.8,1204.3 L899.1,1204.5 L901.4,1204.6 L903.7,1204.7 L906.1,1204.9 L908.4,1205.0 L910.7,1205.1 L913.0,1205.3 L915.4,1205.4 L917.7,1205.6 L920.0,1205.7 L922.3,1205.8 L924.7,1206.0 L927.0,1206.1 L929.3,1206.3 L931.6,1206.4 L934.0,1206.5 L936.3,1206.7 L938.6,1206.8 L940.9,1207.0 L943.3,1207.2 L945.6,1207.4 L947.9,1207.5 L950.2,1207.7 L952.5,1207.9 L954.9,1208.1 L957.2,1208.2 L959.5,1208.4 L961.8,1208.6 L964.2,1208.8 L966.5,1209.0 L968.8,1209.1 L971.1,1209.3 L973.4,1209.5 L975.8,1209.6 L978.1,1209.8 L980.4,1209.9 L982.7,1210.0 L985.1,1210.0 L987.4,1210.1 L989.7,1210.2 L992.0,1210.3 L994.4,1210.4 L996.7,1210.5 L999.0,1210.5 L1001.4,1210.6 L1003.7,1210.7 L1006.0,1210.8 L1008.3,1210.9 L1010.7,1211.0 L1013.0,1211.0 L1015.3,1211.1 L1017.6,1211.2 L1020.0,1211.3 L1022.3,1211.4 L1024.6,1211.5 L1026.9,1211.5 L1029.3,1211.6 L1031.6,1211.7 L1033.9,1211.8 L1036.3,1211.9 L1038.6,1212.0 L1040.9,1212.0 L1043.2,1212.1 L1045.6,1212.2 L1047.9,1212.4 L1050.2,1212.5 L1052.5,1212.6 L1054.9,1212.8 L1057.2,1212.9 L1059.5,1213.1 L1061.8,1213.2 L1064.1,1213.4 L1066.5,1213.5 L1068.8,1213.7 L1071.1,1213.8 L1073.4,1214.0 L1075.8,1214.1 L1078.1,1214.3 L1080.4,1214.4 L1082.7,1214.6 L1085.1,1214.7 L1087.4,1214.9 L1089.7,1215.0 L1092.0,1215.2 L1094.4,1215.3 L1096.7,1215.4 L1099.0,1215.5 L1101.3,1215.5 L1103.7,1215.6 L1106.0,1215.7 L1108.3,1215.8 L1110.6,1215.9 L1113.0,1215.9 L1115.3,1216.0 L1117.6,1216.1 L1120.0,1216.2 L1122.3,1216.3 L1124.6,1216.4 L1126.9,1216.4 L1129.3,1216.5 L1131.6,1216.6 L1133.9,1216.7 L1136.2,1216.8 L1138.6,1216.8 L1140.9,1216.9 L1143.2,1217.0 L1145.5,1217.1 L1147.9,1217.2 L1150.2,1217.2 L1152.5,1217.3 L1154.9,1217.4 L1157.2,1217.5 L1159.5,1217.6 L1161.8,1217.7 L1164.2,1217.7 L1166.5,1217.8 L1168.8,1217.9 L1171.1,1218.0 L1173.5,1218.1 L1175.8,1218.1 L1178.1,1218.2 L1180.4,1218.3 L1182.8,1218.4 L1185.1,1218.5 L1187.4,1218.5 L1189.8,1218.6 L1192.1,1218.7 L1194.4,1218.7 L1196.7,1218.8 L1199.1,1218.8 L1201.4,1218.9 L1203.7,1219.0 L1206.0,1219.0 L1208.4,1219.1 L1210.7,1219.2 L1213.0,1219.2 L1215.3,1219.3 L1217.7,1219.4 L1220.0,1219.4 L1222.3,1219.5 L1224.7,1219.5 L1227.0,1219.6 L1229.3,1219.7 L1231.6,1219.7 L1234.0,1219.8 L1236.3,1219.9 L1238.6,1219.9 L1240.9,1220.0 L1243.3,1220.0 L1245.6,1220.1 L1247.9,1220.2 L1250.3,1220.2 L1252.6,1220.3 L1254.9,1220.4 L1257.2,1220.4 L1259.6,1220.5 L1261.9,1220.5 L1264.2,1220.6 L1266.5,1220.7 L1268.9,1220.7 L1271.2,1220.8 L1273.5,1220.9 L1275.9,1220.9 L1278.2,1221.0 L1280.5,1221.0 L1282.8,1221.1 L1285.2,1221.2 L1287.5,1221.2 L1289.8,1221.3 L1292.1,1221.4 L1294.5,1221.4 L1296.8,1221.5 L1299.1,1221.6 L1301.5,1221.6 L1303.8,1221.7 L1306.1,1221.8 L1308.4,1221.8 L1310.8,1221.9 L1313.1,1222.0 L1315.4,1222.0 L1317.7,1222.1 L1320.1,1222.1 L1322.4,1222.2 L1324.7,1222.3 L1327.1,1222.3 L1329.4,1222.4 L1331.7,1222.5 L1334.0,1222.5 L1336.4,1222.6 L1338.7,1222.7 L1341.0,1222.7 L1343.3,1222.8 L1345.7,1222.9 L1348.0,1222.9 L1350.3,1223.0 L1352.6,1223.1 L1355.0,1223.1 L1357.3,1223.2 L1359.6,1223.3 L1362.0,1223.3 L1364.3,1223.4 L1366.6,1223.4 L1368.9,1223.5 L1371.3,1223.6 L1373.6,1223.6 L1375.9,1223.7 L1378.2,1223.8 L1380.6,1223.8 L1382.9,1223.9 L1385.2,1224.0 L1387.6,1224.0 L1389.9,1224.1 L1392.2,1224.2 L1394.5,1224.2 L1396.9,1224.2 L1399.2,1224.2 L1401.5,1224.3 L1403.8,1224.3 L1406.2,1224.3 L1408.5,1224.3 L1410.8,1224.3 L1413.2,1224.3 L1415.5,1224.3 L1417.8,1224.3 L1420.1,1224.3 L1422.5,1224.3 L1424.8,1224.3 L1427.1,1224.3 L1429.5,1224.3 L1431.8,1224.3 L1434.1,1224.3 L1436.4,1224.3 L1438.8,1224.3 L1441.1,1224.3 L1443.4,1224.3 L1445.7,1224.3 L1448.1,1224.3 L1450.4,1224.3 L1452.7,1224.3 L1455.1,1224.3 L1457.4,1224.3 L1459.7,1224.3 L1462.0,1224.3 L1464.4,1224.3 L1466.7,1224.3 L1469.0,1224.3 L1471.4,1224.3 L1473.7,1224.3 L1476.0,1224.3 L1478.3,1224.3 L1480.7,1224.3 L1483.0,1224.3 L1485.3,1224.3 L1487.7,1224.3 L1490.0,1224.3 L1492.3,1224.3 L1494.6,1224.3 L1497.0,1224.3 L1499.3,1224.3 L1501.6,1224.3 L1503.9,1224.3 L1506.3,1224.3 L1508.6,1224.3 L1510.9,1224.3 L1513.3,1224.3 L1515.6,1224.3 L1517.9,1224.3 L1520.2,1224.3 L1522.6,1224.3 L1524.9,1224.3 L1527.2,1224.3 L1529.6,1224.3 L1531.9,1224.3 L1534.2,1224.3 L1536.5,1224.3 L1538.9,1224.3 L1541.2,1224.3 L1543.5,1224.4 L1545.8,1224.4 L1548.2,1224.4 L1550.5,1224.4 L1552.8,1224.4 L1555.2,1224.4 L1557.5,1224.4 L1559.8,1224.4 L1562.1,1224.4 L1564.5,1224.4 L1566.8,1224.4 L1569.1,1224.4 L1571.5,1224.4 L1573.8,1224.4 L1576.1,1224.4 L1578.4,1224.4 L1580.8,1224.4 L1583.1,1224.4 L1585.4,1224.4 L1587.7,1224.4 L1590.1,1224.4 L1592.4,1224.4 L1594.7,1224.4 L1597.1,1224.4 L1599.4,1224.4 L1601.7,1224.4 L1604.0,1224.4 L1606.4,1224.4 L1608.7,1224.4 L1611.0,1224.4 L1613.4,1224.4 L1615.7,1224.5 L1618.0,1224.5 L1620.3,1224.6 L1622.7,1224.8 L1625.0,1224.9 L1627.3,1225.0 L1629.6,1225.1 L1632.0,1225.3 L1634.3,1225.4 L1636.6,1225.5 L1638.9,1225.6 L1641.3,1225.7 L1643.6,1225.9 L1645.9,1226.0 L1648.2,1226.1 L1650.6,1226.2 L1652.9,1226.4 L1655.2,1226.5 L1657.5,1226.6 L1659.9,1226.7 L1662.2,1226.8 L1664.5,1227.0 L1666.8,1227.0 L1669.2,1227.1 L1671.5,1227.2 L1673.8,1227.3 L1676.1,1227.4 L1678.5,1227.4 L1680.8,1227.5 L1683.1,1227.6 L1685.5,1227.7 L1687.8,1227.7 L1690.1,1227.8 L1692.4,1227.9 L1694.8,1228.0 L1697.1,1228.0 L1699.4,1228.1 L1701.7,1228.2 L1704.1,1228.3 L1706.4,1228.3 L1708.7,1228.4 L1711.0,1228.5 L1713.4,1228.6 L1715.7,1228.6 L1718.0,1228.7 L1720.4,1228.8 L1722.7,1228.9 L1725.0,1228.9 L1727.3,1229.0 L1729.7,1229.1 L1732.0,1229.2 L1734.3,1229.2 L1736.6,1229.3 L1739.0,1229.4 L1741.3,1229.5 L1743.6,1229.5 L1745.9,1229.6 L1748.3,1229.7 L1750.6,1229.8 L1752.9,1229.8 L1755.3,1229.9 L1757.6,1230.0 L1759.9,1230.1 L1762.2,1230.1 L1764.6,1230.2 L1766.9,1230.3 L1769.2,1230.4 L1771.5,1230.4 L1773.9,1230.5 L1776.2,1230.6 L1778.5,1230.7 L1780.9,1230.7 L1783.2,1230.8 L1785.5,1230.9 L1787.8,1231.0 L1790.2,1231.0 L1792.5,1231.1 L1794.8,1231.2 L1797.1,1231.3 L1799.5,1231.3 L1801.8,1231.4 L1804.1,1231.5 L1806.4,1231.6 L1808.8,1231.6 L1811.1,1231.7 L1813.4,1231.8 L1815.8,1231.9 L1818.1,1231.9 L1820.4,1232.0 L1822.7,1232.1 L1825.1,1232.2 L1827.4,1232.2 L1829.7,1232.3 L1832.0,1232.4 L1834.4,1232.5 L1836.7,1232.5 L1839.0,1232.6 L1841.3,1232.7 L1843.7,1232.8 L1846.0,1232.8 L1848.3,1232.9 L1850.7,1233.0 L1853.0,1233.1 L1855.3,1233.1 L1857.6,1233.2 L1860.0,1233.3 L1862.3,1233.4 L1864.6,1233.5 L1866.9,1233.5 L1869.3,1233.6 L1871.6,1233.7 L1873.9,1233.8 L1876.2,1233.9 L1878.6,1233.9 L1880.9,1234.0 L1883.2,1234.1 L1885.6,1234.2 L1887.9,1234.3 L1890.2,1234.3 L1892.5,1234.4 L1894.9,1234.5 L1897.2,1234.6 L1899.5,1234.7 L1901.8,1234.7 L1904.2,1234.8 L1906.5,1234.9 L1908.8,1235.0 L1911.1,1235.0 L1913.5,1235.1 L1915.8,1235.2 L1918.1,1235.3 L1920.5,1235.4 L1922.8,1235.4 L1925.1,1235.5 L1927.4,1235.6 L1929.8,1235.7 L1932.1,1235.8 L1934.4,1235.8 L1936.7,1235.9 L1939.1,1236.0" stroke="#ff0000"/>
<path d="M451.7,1105.2 L453.8,1106.4 L455.8,1107.6 L457.9,1108.7 L460.0,1109.9 L462.0,1111.1 L464.1,1112.2 L466.1,1113.4 L468.2,1114.6 L470.3,1115.7 L472.3,1116.9 L474.3,1118.2 L476.3,1119.4 L478.3,1120.8 L480.3,1122.1 L482.2,1123.4 L484.2,1124.8 L486.2,1126.1 L488.1,1127.5 L490.1,1128.8 L492.1,1130.2 L494.0,1131.5 L496.0,1132.9 L497.9,1134.2 L499.8,1135.6 L501.8,1137.0 L503.7,1138.5 L505.6,1139.9 L507.5,1141.3 L509.4,1142.7 L511.3,1144.1 L513.3,1145.6 L515.2,1147.0 L517.1,1148.4 L519.0,1149.8 L521.0,1151.2 L523.0,1152.4 L525.0,1153.7 L527.0,1154.9 L529.1,1156.1 L531.1,1157.4 L533.1,1158.6 L535.1,1159.8 L537.2,1161.0 L539.2,1162.3 L541.2,1163.5 L543.3,1164.7 L545.4,1165.8 L547.4,1166.9 L549.5,1168.0 L551.6,1169.1 L553.8,1170.1 L555.9,1171.2 L558.0,1172.3 L560.1,1173.3 L562.2,1174.4 L564.3,1175.5 L566.4,1176.5 L568.5,1177.5 L570.7,1178.4 L572.9,1179.3 L575.0,1180.2 L577.2,1181.1 L579.4,1181.9 L581.6,1182.8 L583.8,1183.7 L585.9,1184.6 L588.1,1185.4 L590.3,1186.2 L592.6,1186.9 L594.8,1187.4 L597.1,1188.0 L599.4,1188.5 L601.7,1189.0 L603.9,1189.6 L606.2,1190.1 L608.5,1190.6 L610.8,1191.2 L613.0,1191.7 L615.3,1192.2 L617.6,1192.8 L619.8,1193.3 L622.1,1193.9 L624.4,1194.4 L626.7,1195.0 L628.9,1195.5 L631.2,1196.1 L633.5,1196.6 L635.8,1197.1 L638.0,1197.6 L640.3,1198.0 L642.6,1198.4 L644.9,1198.8 L647.2,1199.2 L649.5,1199.6 L651.8,1200.0 L654.1,1200.4 L656.4,1200.8 L658.7,1201.2 L661.0,1201.7 L663.3,1202.2 L665.6,1202.7 L667.8,1203.2 L670.1,1203.7 L672.4,1204.3 L674.7,1204.8 L676.9,1205.3 L679.2,1205.8 L681.5,1206.4 L683.8,1206.8 L686.1,1207.2 L688.4,1207.5 L690.7,1207.9 L693.0,1208.2 L695.3,1208.5 L697.6,1208.8 L699.9,1209.1 L702.2,1209.5 L704.5,1209.8 L706.8,1210.1 L709.1,1210.4 L711.5,1210.7 L713.8,1211.1 L716.1,1211.4 L718.4,1211.7 L720.7,1212.0 L723.0,1212.4 L725.3,1212.7 L727.6,1213.0 L729.9,1213.3 L732.2,1213.6 L734.5,1214.0 L736.8,1214.3 L739.2,1214.6 L741.5,1214.9 L743.8,1215.2 L746.1,1215.6 L748.4,1215.9 L750.7,1216.2 L753.0,1216.5 L755.3,1216.9 L757.6,1217.2 L759.9,1217.5 L762.2,1217.8 L764.5,1218.1 L766.9,1218.5 L769.2,1218.8 L771.5,1219.1 L773.8,1219.4 L776.1,1219.8 L778.4,1220.1 L780.7,1220.3 L783.0,1220.6 L785.3,1220.8 L787.7,1220.9 L790.0,1221.1 L792.3,1221.3 L794.6,1221.4 L797.0,1221.6 L799.3,1221.7 L801.6,1221.9 L803.9,1222.1 L806.2,1222.2 L808.6,1222.4 L810.9,1222.6 L813.2,1222.7 L815.5,1222.9 L817.9,1223.0 L820.2,1223.2 L822.5,1223.4 L824.8,1223.5 L827.2,1223.7 L829.5,1223.7 L831.8,1223.8 L834.1,1223.8 L836.5,1223.8 L838.8,1223.9 L841.1,1223.9 L843.4,1223.9 L845.8,1223.9 L848.1,1224.0 L850.4,1224.0 L852.8,1224.0 L855.1,1224.0 L857.4,1224.1 L859.7,1224.1 L862.1,1224.1 L864.4,1224.1 L866.7,1224.2 L869.0,1224.2 L871.4,1224.2 L873.7,1224.3 L876.0,1224.3 L878.4,1224.3 L880.7,1224.4 L883.0,1224.5 L885.3,1224.5 L887.7,1224.6 L890.0,1224.6 L892.3,1224.7 L894.6,1224.7 L897.0,1224.8 L899.3,1224.8 L901.6,1224.9 L904.0,1225.0 L906.3,1225.0 L908.6,1225.1 L910.9,1225.1 L913.3,1225.2 L915.6,1225.2 L917.9,1225.3 L920.2,1225.3 L922.6,1225.4 L924.9,1225.4 L927.2,1225.5 L929.6,1225.6 L931.9,1225.6 L934.2,1225.7 L936.5,1225.7 L938.9,1225.7 L941.2,1225.8 L943.5,1225.8 L945.8,1225.8 L948.2,1225.8 L950.5,1225.8 L952.8,1225.8 L955.2,1225.9 L957.5,1225.9 L959.8,1225.9 L962.1,1225.9 L964.5,1225.9 L966.8,1225.9 L969.1,1226.0 L971.4,1226.0 L973.8,1226.0 L976.1,1226.2 L978.4,1226.5 L980.7,1227.0 L982.9,1227.5 L985.2,1228.0 L987.5,1228.4 L989.8,1228.7 L992.1,1228.7 L994.4,1228.7 L996.8,1228.8 L999.1,1228.8 L1001.4,1228.8 L1003.7,1228.8 L1006.1,1228.8 L1008.4,1228.8 L1010.7,1228.8 L1013.1,1228.8 L1015.4,1228.8 L1017.7,1228.8 L1020.0,1228.8 L1022.4,1228.8 L1024.7,1228.8 L1027.0,1228.8 L1029.3,1228.8 L1031.7,1228.8 L1034.0,1228.8 L1036.3,1228.8 L1038.7,1228.8 L1041.0,1228.8 L1043.3,1228.8 L1045.6,1228.8 L1048.0,1228.8 L1050.3,1228.8 L1052.6,1228.8 L1054.9,1228.8 L1057.3,1228.8 L1059.6,1228.8 L1061.9,1228.8 L1064.3,1228.8 L1066.6,1228.8 L1068.9,1228.8 L1071.2,1228.8 L1073.6,1228.8 L1075.9,1228.8 L1078.2,1228.8 L1080.6,1228.8 L1082.9,1228.8 L1085.2,1228.8 L1087.5,1228.8 L1089.9,1228.8 L1092.2,1228.8 L1094.5,1228.8 L1096.8,1228.8 L1099.2,1228.8 L1101.5,1228.8 L1103.8,1228.8 L1106.2,1228.8 L1108.5,1228.8 L1110.8,1228.8 L1113.1,1228.8 L1115.5,1228.8 L1117.8,1228.8 L1120.1,1228.8 L1122.4,1228.8 L1124.8,1228.8 L1127.1,1228.8 L1129.4,1228.8 L1131.8,1228.8 L1134.1,1228.8 L1136.4,1228.8 L1138.7,1228.8 L1141.1,1228.8 L1143.4,1228.8 L1145.7,1228.8 L1148.1,1228.8 L1150.4,1228.8 L1152.7,1228.8 L1155.0,1228.8 L1157.4,1228.8 L1159.7,1228.8 L1162.0,1228.8 L1164.3,1228.8 L1166.7,1228.8 L1169.0,1228.8 L1171.3,1228.8 L1173.7,1228.8 L1176.0,1228.8 L1178.3,1228.8 L1180.6,1228.8 L1183.0,1228.8 L1185.3,1228.8 L1187.6,1228.8 L1189.9,1228.8 L1192.3,1228.8 L1194.6,1228.8 L1196.9,1228.8 L1199.3,1228.8 L1201.6,1228.8 L1203.9,1228.8 L1206.2,1228.8 L1208.6,1228.8 L1210.9,1228.8 L1213.2,1228.8 L1215.6,1228.8 L1217.9,1228.8 L1220.2,1228.8 L1222.5,1228.8 L1224.9,1228.8 L1227.2,1228.8 L1229.5,1228.8 L1231.8,1228.8 L1234.2,1228.8 L1236.5,1228.8 L1238.8,1228.8 L1241.2,1228.8 L1243.5,1228.8 L1245.8,1228.8 L1248.1,1228.8 L1250.5,1228.8 L1252.8,1228.8 L1255.1,1228.8 L1257.4,1228.8 L1259.8,1228.8 L1262.1,1228.8 L1264.4,1228.8 L1266.8,1228.8 L1269.1,1228.8 L1271.4,1228.8 L1273.7,1228.8 L1276.1,1228.8 L1278.4,1228.8 L1280.7,1228.8 L1283.1,1228.8 L1285.4,1228.8 L1287.7,1228.8 L1290.0,1228.8 L1292.4,1228.8 L1294.7,1228.8 L1297.0,1228.8 L1299.3,1228.8 L1301.7,1228.8 L1304.0,1228.8 L1306.3,1228.8 L1308.7,1228.8 L1311.0,1228.8 L1313.3,1228.8 L1315.6,1228.8 L1318.0,1228.8 L1320.3,1228.8 L1322.6,1228.8 L1324.9,1228.8 L1327.3,1228.8 L1329.6,1228.8 L1331.9,1228.8 L1334.3,1228.8 L1336.6,1228.8 L1338.9,1228.8 L1341.2,1228.8 L1343.6,1228.8 L1345.9,1228.8 L1348.2,1228.8 L1350.6,1228.8 L1352.9,1228.8 L1355.2,1228.8 L1357.5,1228.8 L1359.9,1228.8 L1362.2,1228.8 L1364.5,1228.8 L1366.8,1228.8 L1369.2,1228.8 L1371.5,1228.8 L1373.8,1228.8 L1376.2,1228.8 L1378.5,1228.8 L1380.8,1228.8 L1383.1,1228.8 L1385.5,1228.8 L1387.8,1228.8 L1390.1,1228.7 L1392.4,1228.7 L1394.7,1228.4 L1396.9,1227.9 L1399.1,1227.3 L1401.3,1227.0 L1403.4,1227.2 L1405.6,1227.7 L1407.8,1228.2 L1410.1,1228.4 L1412.4,1228.5 L1414.7,1228.5 L1417.0,1228.5 L1419.3,1228.4 L1421.6,1228.3 L1423.8,1227.8 L1426.0,1227.2 L1428.1,1227.0 L1430.2,1227.3 L1432.3,1227.8 L1434.6,1227.9 L1436.8,1227.8 L1439.1,1227.4 L1441.4,1227.1 L1443.7,1226.7 L1446.0,1226.5 L1448.4,1226.3 L1450.7,1226.3 L1453.0,1226.3 L1455.3,1226.2 L1457.7,1226.2 L1460.0,1226.2 L1462.3,1226.2 L1464.6,1226.2 L1467.0,1226.2 L1469.3,1226.2 L1471.6,1226.2 L1474.0,1226.2 L1476.3,1226.2 L1478.6,1226.2 L1480.9,1226.2 L1483.3,1226.2 L1485.6,1226.2 L1487.9,1226.2 L1490.2,1226.2 L1492.6,1226.2 L1494.9,1226.2 L1497.2,1226.2 L1499.6,1226.2 L1501.9,1226.2 L1504.2,1226.2 L1506.5,1226.3 L1508.9,1226.3 L1511.2,1226.3 L1513.5,1226.5 L1515.8,1226.8 L1518.1,1227.2 L1520.4,1227.7 L1522.7,1228.1 L1525.0,1228.5 L1527.3,1228.7 L1529.6,1228.7 L1531.9,1228.7 L1534.2,1228.8 L1536.6,1228.8 L1538.9,1228.8 L1541.2,1228.7 L1543.5,1228.6 L1545.8,1228.3 L1548.0,1227.8 L1550.2,1227.4 L1552.3,1227.5 L1554.5,1228.0 L1556.8,1228.4 L1559.0,1228.7 L1561.4,1228.7 L1563.7,1228.8 L1566.0,1228.8 L1568.3,1228.8 L1570.7,1228.8 L1573.0,1228.8 L1575.3,1228.8 L1577.6,1228.8 L1580.0,1228.8 L1582.3,1228.8 L1584.6,1228.8 L1587.0,1228.8 L1589.3,1228.8 L1591.6,1228.8 L1593.9,1228.8 L1596.3,1228.8 L1598.6,1228.8 L1600.9,1228.8 L1603.2,1228.8 L1605.6,1228.8 L1607.9,1228.8 L1610.2,1228.8 L1612.6,1228.8 L1614.9,1228.8 L1617.2,1228.8 L1619.5,1228.8 L1621.9,1228.8 L1624.2,1228.8 L1626.5,1228.8 L1628.9,1228.8 L1631.2,1228.8 L1633.5,1228.8 L1635.8,1228.8 L1638.2,1228.8 L1640.5,1228.8 L1642.8,1228.8 L1645.1,1228.8 L1647.5,1228.9 L1649.8,1229.1 L1652.1,1229.4 L1654.4,1229.6 L1656.7,1229.9 L1659.0,1230.2 L1661.4,1230.4 L1663.7,1230.7 L1666.0,1230.9 L1668.3,1231.2 L1670.6,1231.5 L1672.9,1231.7 L1675.3,1231.8 L1677.6,1231.9 L1679.9,1231.9 L1682.2,1231.9 L1684.6,1231.9 L1686.9,1231.9 L1689.2,1231.9 L1691.5,1231.9 L1693.9,1231.9 L1696.2,1231.9 L1698.5,1231.9 L1700.9,1231.9 L1703.2,1231.9 L1705.5,1231.9 L1707.8,1231.9 L1710.2,1231.9 L1712.5,1231.9 L1714.8,1231.9 L1717.1,1231.9 L1719.5,1231.9 L1721.8,1231.9 L1724.1,1231.9 L1726.5,1231.9 L1728.8,1231.9 L1731.1,1231.9 L1733.4,1231.9 L1735.8,1231.9 L1738.1,1231.9 L1740.4,1231.9 L1742.8,1231.9 L1745.1,1231.9 L1747.4,1231.9 L1749.7,1231.9 L1752.1,1231.9 L1754.4,1232.0 L1756.7,1232.1 L1758.9,1232.6 L1761.1,1233.3 L1763.3,1234.1 L1765.5,1234.7 L1767.8,1234.9 L1770.1,1235.0 L1772.4,1235.0 L1774.7,1235.0 L1777.1,1235.0 L1779.4,1235.0 L1781.7,1235.0 L1784.0,1235.0 L1786.4,1235.0 L1788.7,1235.0 L1791.0,1235.0 L1793.3,1235.0 L1795.7,1235.0 L1798.0,1235.0 L1800.3,1235.0 L1802.7,1235.0 L1805.0,1235.0 L1807.3,1235.0 L1809.6,1235.0 L1812.0,1235.0 L1814.3,1235.0 L1816.6,1235.0 L1818.9,1235.0 L1821.3,1235.1 L1823.6,1235.4 L1825.8,1235.9 L1828.1,1236.5 L1830.3,1237.2 L1832.6,1237.7 L1834.8,1237.9 L1837.2,1238.0 L1839.5,1238.0 L1841.8,1238.0 L1844.1,1238.0 L1846.5,1238.0 L1848.8,1238.0 L1851.1,1238.0 L1853.5,1238.0 L1855.8,1238.0 L1858.1,1238.0 L1860.4,1238.0 L1862.8,1238.0 L1865.1,1238.0 L1867.4,1238.0 L1869.7,1238.0 L1872.1,1238.0 L1874.4,1238.0 L1876.7,1238.0 L1879.1,1238.0 L1881.4,1238.0 L1883.7,1238.0 L1886.0,1238.0 L1888.4,1238.0 L1890.7,1238.0 L1893.0,1238.0 L1895.4,1238.0 L1897.7,1238.0 L1900.0,1238.0 L1902.3,1238.0 L1904.7,1238.0 L1907.0,1238.0 L1909.3,1238.0 L1911.6,1238.0 L1914.0,1238.0 L1916.3,1238.2 L1918.5,1238.5 L1920.8,1239.1 L1923.0,1239.9 L1925.2,1240.5 L1927.5,1240.8 L1929.8,1241.0 L1932.1,1241.0 L1934.4,1241.0 L1936.7,1241.0 L1939.1,1241.0" stroke="#0000ff"/>
<path d="M451.6,321.0 L451.7,323.5 L451.8,326.0 L451.9,328.5 L452.0,331.0 L452.1,333.5 L452.2,336.0 L452.3,338.5 L452.4,341.0 L452.5,343.5 L452.7,346.0 L452.8,348.5 L452.9,351.0 L453.1,353.5 L453.3,356.0 L453.5,358.5 L453.7,361.0 L453.9,363.5 L454.1,365.9 L454.3,368.4 L454.5,370.9 L454.7,373.4 L454.9,375.9 L455.1,378.4 L455.3,380.9 L455.5,383.4 L455.7,385.9 L455.9,388.4 L456.1,390.9 L456.3,393.4 L456.5,395.9 L456.7,398.4 L456.9,400.8 L457.1,403.3 L457.4,405.8 L457.6,408.3 L457.8,410.8 L458.1,413.3 L458.3,415.8 L458.6,418.3 L458.8,420.7 L459.1,423.2 L459.3,425.7 L459.5,428.2 L459.8,430.7 L460.0,433.2 L460.3,435.7 L460.5,438.2 L460.8,440.7 L461.0,443.1 L461.2,445.6 L461.5,448.1 L461.7,450.6 L462.0,453.1 L462.2,455.6 L462.4,458.1 L462.7,460.6 L462.9,463.1 L463.1,465.5 L463.4,468.0 L463.6,470.5 L463.8,473.0 L464.0,475.5 L464.3,478.0 L464.5,480.5 L464.7,483.0 L465.0,485.5 L465.2,487.9 L465.4,490.4 L465.7,492.9 L465.9,495.4 L466.1,497.9 L466.4,500.4 L466.7,502.9 L467.1,505.3 L467.4,507.8 L467.7,510.3 L468.1,512.8 L468.4,515.2 L468.7,517.7 L469.1,520.2 L469.4,522.7 L469.7,525.1 L470.1,527.6 L470.4,530.1 L470.7,532.6 L471.1,535.1 L471.4,537.5 L471.8,540.0 L472.1,542.5 L472.4,545.0 L472.8,547.4 L473.1,549.9 L473.4,552.4 L473.7,554.9 L474.0,557.4 L474.3,559.8 L474.6,562.3 L474.9,564.8 L475.2,567.3 L475.4,569.8 L475.7,572.2 L476.0,574.7 L476.3,577.2 L476.6,579.7 L476.9,582.2 L477.2,584.7 L477.5,587.1 L477.8,589.6 L478.1,592.1 L478.4,594.6 L478.7,597.1 L478.9,599.5 L479.2,602.0 L479.5,604.5 L479.7,607.0 L479.9,609.5 L480.2,612.0 L480.4,614.5 L480.7,617.0 L480.9,619.4 L481.2,621.9 L481.4,624.4 L481.6,626.9 L481.9,629.4 L482.1,631.9 L482.4,634.4 L482.6,636.9 L482.8,639.4 L483.1,641.8 L483.3,644.3 L483.6,646.8 L483.8,649.3 L484.1,651.8 L484.5,654.3 L484.8,656.7 L485.1,659.2 L485.5,661.7 L485.8,664.2 L486.1,666.6 L486.5,669.1 L486.8,671.6 L487.2,674.1 L487.5,676.5 L487.8,679.0 L488.2,681.5 L488.5,684.0 L488.8,686.4 L489.2,688.9 L489.5,691.4 L489.9,693.9 L490.2,696.3 L490.6,698.8 L491.0,701.3 L491.4,703.7 L491.9,706.2 L492.4,708.6 L492.9,711.1 L493.4,713.5 L493.9,716.0 L494.3,718.4 L494.8,720.9 L495.3,723.3 L495.8,725.7 L496.3,728.2 L496.8,730.6 L497.3,733.1 L497.7,735.5 L498.2,738.0 L498.7,740.4 L499.2,742.9 L499.7,745.3 L500.2,747.8 L500.7,750.2 L501.3,752.6 L501.9,755.0 L502.6,757.4 L503.2,759.8 L503.8,762.3 L504.4,764.7 L505.1,767.1 L505.7,769.5 L506.3,771.9 L506.9,774.3 L507.5,776.7 L508.1,779.2 L508.6,781.6 L509.2,784.0 L509.7,786.4 L510.3,788.9 L510.8,791.3 L511.4,793.7 L511.9,796.2 L512.5,798.6 L513.1,801.0 L513.8,803.4 L514.5,805.8 L515.3,808.2 L516.0,810.5 L516.7,812.9 L517.4,815.3 L518.1,817.7 L518.9,820.0 L519.6,822.4 L520.4,824.7 L521.4,827.0 L522.4,829.3 L523.4,831.5 L524.5,833.7 L525.5,836.0 L526.6,838.2 L527.7,840.4 L529.0,842.4 L530.4,844.4 L532.0,846.3 L533.5,848.1 L535.1,850.0 L536.6,851.8 L538.3,853.6 L540.0,855.2 L541.9,856.7 L543.8,858.1 L545.8,859.4 L547.7,860.8 L549.7,861.9 L551.8,862.5 L554.0,862.6 L556.3,862.4 L558.6,862.0 L560.9,861.6 L563.2,861.2 L565.5,860.8 L567.8,860.4 L570.0,859.8 L572.2,859.0 L574.4,858.1 L576.5,857.1 L578.7,856.2 L580.8,855.3 L583.0,854.3 L585.1,853.4 L587.3,852.4 L589.5,851.5 L591.6,850.6 L593.8,849.6 L595.9,848.7 L598.1,847.8 L600.3,846.9 L602.4,846.0 L604.6,845.2 L606.9,844.5 L609.1,843.8 L611.4,843.2 L613.6,842.7 L615.9,842.1 L618.2,841.7 L620.5,841.5 L622.8,841.4 L625.1,841.4 L627.5,841.4 L629.8,841.5 L632.1,841.7 L634.4,842.0 L636.6,842.6 L638.8,843.3 L641.1,844.0 L643.3,844.8 L645.5,845.5 L647.7,846.3 L649.9,847.1 L652.1,848.0 L654.2,848.9 L656.4,849.9 L658.5,851.0 L660.6,852.0 L662.7,853.1 L664.8,854.1 L666.9,855.1 L669.1,856.2 L671.2,857.2 L673.3,858.3 L675.3,859.5 L677.3,860.8 L679.3,862.1 L681.3,863.4 L683.2,864.7 L685.2,866.1 L687.2,867.4 L689.2,868.7 L691.1,870.0 L693.1,871.3 L695.1,872.6 L697.2,873.8 L699.3,874.7 L701.5,875.4 L703.7,876.1 L705.9,876.9 L708.1,877.8 L710.2,878.9 L712.3,880.0 L714.3,881.2 L716.4,882.3 L718.5,883.5 L720.6,884.5 L722.7,885.4 L724.9,886.2 L727.1,887.0 L729.3,887.7 L731.6,888.4 L733.8,889.1 L736.1,889.7 L738.3,890.4 L740.6,891.0 L742.8,891.7 L745.1,892.3 L747.3,892.7 L749.6,892.9 L751.9,892.8 L754.2,892.5 L756.5,892.2 L758.8,891.8 L761.1,891.5 L763.4,891.1 L765.7,890.6 L768.0,890.1 L770.2,889.6 L772.5,889.1 L774.8,888.6 L777.1,888.1 L779.3,887.5 L781.5,886.8 L783.7,885.9 L785.7,884.7 L787.7,883.5 L789.7,882.2 L791.7,880.9 L793.7,879.6 L795.7,878.4 L797.7,877.1 L799.7,875.7 L801.6,874.3 L803.5,872.8 L805.3,871.3 L807.2,869.8 L809.1,868.3 L810.9,866.8 L812.8,865.3 L814.6,863.8 L816.5,862.3 L818.4,860.8 L820.2,859.3 L822.0,857.8 L823.8,856.1 L825.5,854.4 L827.1,852.6 L828.7,850.8 L830.3,849.0 L831.9,847.2 L833.6,845.4 L835.2,843.6 L836.8,841.8 L838.4,840.0 L840.0,838.2 L841.6,836.4 L843.2,834.6 L844.8,832.8 L846.4,830.9 L847.9,829.0 L849.4,827.1 L850.9,825.2 L852.4,823.2 L853.8,821.3 L855.3,819.4 L856.8,817.4 L858.2,815.5 L859.7,813.5 L861.2,811.6 L862.6,809.7 L864.1,807.7 L865.6,805.8 L867.1,803.8 L868.5,801.9 L870.0,800.0 L871.6,798.1 L873.1,796.3 L874.7,794.4 L876.2,792.5 L877.8,790.7 L879.3,788.8 L880.9,787.0 L882.5,785.1 L884.0,783.2 L885.6,781.4 L887.1,779.5 L888.7,777.7 L890.2,775.8 L891.8,773.9 L893.2,772.0 L894.6,770.0 L896.0,768.0 L897.3,765.9 L898.7,763.9 L900.0,761.8 L901.3,759.8 L902.7,757.7 L904.0,755.7 L905.4,753.6 L906.7,751.6 L908.0,749.5 L909.4,747.5 L910.7,745.4 L912.0,743.4 L913.4,741.3 L914.7,739.3 L916.1,737.2 L917.4,735.2 L918.8,733.2 L920.1,731.1 L921.5,729.1 L922.8,727.1 L924.2,725.0 L925.5,723.0 L926.9,720.9 L928.2,718.9 L929.6,716.9 L930.9,714.8 L932.3,712.8 L933.6,710.7 L935.0,708.7 L936.3,706.7 L937.7,704.6 L939.0,702.6 L940.4,700.6 L941.7,698.5 L943.1,696.5 L944.4,694.4 L945.8,692.4 L947.2,690.5 L948.8,688.6 L950.4,686.8 L952.0,685.1 L953.7,683.3 L955.4,681.6 L957.0,679.8 L958.7,678.1 L960.4,676.3 L962.0,674.6 L963.7,672.8 L965.4,671.1 L967.0,669.4 L968.7,667.6 L970.4,665.9 L972.0,664.1 L973.7,662.4 L975.4,660.6 L977.0,658.9 L978.7,657.1 L980.4,655.4 L982.0,653.6 L983.7,651.9 L985.3,650.1 L987.0,648.3 L988.6,646.5 L990.2,644.7 L991.8,642.9 L993.4,641.1 L995.0,639.3 L996.6,637.5 L998.2,635.7 L999.9,634.0 L1001.7,632.4 L1003.6,631.0 L1005.5,629.5 L1007.5,628.1 L1009.4,626.7 L1011.3,625.3 L1013.2,623.9 L1015.1,622.5 L1017.1,621.1 L1019.0,619.7 L1020.9,618.3 L1022.9,617.1 L1025.0,616.0 L1027.2,615.1 L1029.4,614.3 L1031.6,613.5 L1033.8,612.7 L1036.0,612.0 L1038.3,611.4 L1040.5,610.9 L1042.8,610.4 L1045.1,610.0 L1047.4,609.7 L1049.7,609.5 L1052.0,609.5 L1054.3,609.9 L1056.5,610.4 L1058.8,611.0 L1061.0,611.7 L1063.3,612.3 L1065.5,612.9 L1067.8,613.5 L1070.0,614.2 L1072.2,615.0 L1074.4,615.9 L1076.6,616.8 L1078.7,617.8 L1080.8,618.8 L1082.8,620.1 L1084.7,621.5 L1086.6,623.0 L1088.4,624.5 L1090.3,626.0 L1092.1,627.6 L1093.9,629.2 L1095.6,630.8 L1097.4,632.5 L1099.1,634.2 L1100.8,635.8 L1102.5,637.5 L1104.3,639.2 L1106.0,640.9 L1107.7,642.6 L1109.4,644.2 L1111.2,645.9 L1112.9,647.6 L1114.6,649.3 L1116.3,651.0 L1118.0,652.7 L1119.7,654.4 L1121.3,656.2 L1122.8,658.1 L1124.3,660.1 L1125.7,662.0 L1127.2,664.0 L1128.6,665.9 L1130.1,667.9 L1131.6,669.8 L1133.0,671.8 L1134.5,673.7 L1135.9,675.6 L1137.4,677.6 L1138.9,679.5 L1140.3,681.5 L1141.8,683.4 L1143.2,685.4 L1144.7,687.4 L1146.1,689.4 L1147.4,691.4 L1148.6,693.6 L1149.7,695.7 L1150.9,697.9 L1152.0,700.1 L1153.2,702.2 L1154.3,704.4 L1155.5,706.6 L1156.7,708.8 L1157.8,710.9 L1159.0,713.1 L1160.1,715.3 L1161.3,717.5 L1162.4,719.6 L1163.6,721.8 L1164.7,724.0 L1165.9,726.1 L1167.0,728.3 L1168.2,730.5 L1169.3,732.7 L1170.5,734.8 L1171.6,737.0 L1172.8,739.2 L1173.9,741.4 L1174.9,743.6 L1176.0,745.9 L1177.0,748.1 L1178.1,750.3 L1179.1,752.6 L1180.2,754.8 L1181.2,757.0 L1182.3,759.3 L1183.3,761.5 L1184.4,763.7 L1185.4,766.0 L1186.5,768.2 L1187.5,770.4 L1188.6,772.7 L1189.6,774.9 L1190.7,777.1 L1191.7,779.4 L1192.8,781.6 L1193.8,783.8 L1194.9,786.0 L1196.0,788.3 L1197.0,790.5 L1198.2,792.7 L1199.3,794.9 L1200.4,797.0 L1201.6,799.2 L1202.7,801.4 L1203.9,803.6 L1205.0,805.8 L1206.1,807.9 L1207.3,810.1 L1208.4,812.3 L1209.6,814.5 L1210.7,816.7 L1211.9,818.8 L1213.0,821.0 L1214.1,823.2 L1215.3,825.4 L1216.4,827.6 L1217.6,829.7 L1218.7,831.9 L1219.9,834.1 L1221.0,836.3 L1222.1,838.5 L1223.2,840.7 L1224.2,842.9 L1225.2,845.2 L1226.2,847.4 L1227.2,849.7 L1228.2,852.0 L1229.2,854.2 L1230.2,856.5 L1231.2,858.8 L1232.2,861.0 L1233.2,863.3 L1234.2,865.6 L1235.1,867.8 L1236.1,870.1 L1237.1,872.3 L1238.1,874.6 L1239.1,876.9 L1240.1,879.1 L1241.1,881.4 L1242.1,883.7 L1243.1,885.9 L1244.1,888.2 L1245.1,890.4 L1246.1,892.7 L1247.2,894.9 L1248.2,897.1 L1249.3,899.4 L1250.3,901.6 L1251.4,903.8 L1252.4,906.1 L1253.5,908.3 L1254.5,910.6 L1255.5,912.8 L1256.6,915.0 L1257.6,917.3 L1258.7,919.5 L1259.7,921.7 L1260.8,924.0 L1261.8,926.2 L1262.9,928.4 L1263.9,930.7 L1265.0,932.9 L1266.0,935.1 L1267.1,937.4 L1268.1,939.6 L1269.2,941.8 L1270.3,944.0 L1271.4,946.2 L1272.5,948.4 L1273.6,950.6 L1274.8,952.8 L1275.9,955.0 L1277.0,957.2 L1278.1,959.4 L1279.2,961.6 L1280.3,963.8 L1281.4,966.0 L1282.6,968.2 L1283.7,970.4 L1284.8,972.6 L1285.9,974.8 L1287.0,977.0 L1288.1,979.2 L1289.2,981.4 L1290.3,983.6 L1291.5,985.8 L1292.6,987.9 L1293.8,990.1 L1295.1,992.1 L1296.4,994.2 L1297.8,996.2 L1299.2,998.2 L1300.5,1000.2 L1301.9,1002.3 L1303.3,1004.3 L1304.7,1006.3 L1306.0,1008.3 L1307.4,1010.4 L1308.8,1012.4 L1310.1,1014.4 L1311.5,1016.4 L1312.9,1018.5 L1314.2,1020.5 L1315.5,1022.6 L1316.8,1024.6 L1318.2,1026.7 L1319.5,1028.8 L1320.8,1030.8 L1322.1,1032.9 L1323.4,1035.0 L1324.7,1037.1 L1326.0,1039.1 L1327.3,1041.2 L1328.6,1043.3 L1329.9,1045.3 L1331.4,1047.3 L1332.8,1049.2 L1334.3,1051.2 L1335.7,1053.1 L1337.2,1055.1 L1338.6,1057.0 L1340.1,1059.0 L1341.6,1060.9 L1343.0,1062.9 L1344.5,1064.8 L1346.0,1066.8 L1347.4,1068.7 L1348.8,1070.7 L1350.2,1072.7 L1351.6,1074.7 L1352.9,1076.8 L1354.3,1078.8 L1355.7,1080.8 L1357.0,1082.9 L1358.4,1084.9 L1359.7,1086.9 L1361.1,1088.9 L1362.5,1091.0 L1363.8,1093.0 L1365.2,1095.0 L1366.7,1096.9 L1368.2,1098.8 L1369.7,1100.7 L1371.3,1102.6 L1372.8,1104.5 L1374.4,1106.3 L1375.9,1108.2 L1377.5,1110.0 L1379.0,1111.9 L1380.6,1113.8 L1382.1,1115.6 L1383.7,1117.5 L1385.3,1119.4 L1386.9,1121.2 L1388.5,1122.9 L1390.2,1124.6 L1391.9,1126.3 L1393.7,1128.0 L1395.4,1129.7 L1397.1,1131.3 L1398.9,1133.0 L1400.6,1134.7 L1402.3,1136.3 L1404.1,1138.0 L1405.8,1139.7 L1407.5,1141.3 L1409.3,1143.0 L1411.0,1144.7 L1412.7,1146.3 L1414.5,1148.0 L1416.2,1149.7 L1418.0,1151.3 L1419.8,1152.8 L1421.7,1154.2 L1423.7,1155.6 L1425.6,1157.0 L1427.6,1158.4 L1429.5,1159.7 L1431.5,1161.1 L1433.4,1162.5 L1435.3,1163.9 L1437.3,1165.2 L1439.2,1166.6 L1441.2,1167.9 L1443.2,1169.2 L1445.3,1170.3 L1447.3,1171.5 L1449.4,1172.6 L1451.5,1173.7 L1453.6,1174.9 L1455.7,1176.0 L1457.7,1177.1 L1459.8,1178.2 L1461.9,1179.3 L1464.0,1180.4 L1466.1,1181.4 L1468.3,1182.3 L1470.5,1183.2 L1472.7,1184.1 L1474.8,1184.9 L1477.0,1185.8 L1479.2,1186.6 L1481.4,1187.5 L1483.6,1188.4 L1485.8,1189.2 L1488.0,1190.0 L1490.2,1190.7 L1492.5,1191.4 L1494.7,1192.0 L1497.0,1192.6 L1499.2,1193.3 L1501.5,1193.9 L1503.7,1194.5 L1506.0,1195.2 L1508.2,1195.8 L1510.5,1196.4 L1512.7,1197.0 L1515.0,1197.6 L1517.2,1198.3 L1519.5,1198.9 L1521.8,1199.5 L1524.0,1200.1 L1526.3,1200.7 L1528.5,1201.3 L1530.8,1201.9 L1533.1,1202.5 L1535.3,1203.0 L1537.6,1203.4 L1539.9,1203.8 L1542.2,1204.2 L1544.5,1204.6 L1546.8,1204.9 L1549.1,1205.3 L1551.4,1205.8 L1553.7,1206.3 L1556.0,1206.8 L1558.3,1207.2 L1560.6,1207.5 L1562.9,1207.8 L1565.2,1208.1 L1567.5,1208.3 L1569.8,1208.5 L1572.1,1208.8 L1574.4,1209.0 L1576.8,1209.3 L1579.1,1209.5 L1581.4,1209.8 L1583.7,1210.0 L1586.0,1210.3 L1588.3,1210.5 L1590.7,1210.8 L1593.0,1211.0 L1595.3,1211.3 L1597.6,1211.5 L1599.9,1211.8 L1602.2,1212.0 L1604.6,1212.3 L1606.9,1212.5 L1609.2,1212.7 L1611.5,1213.0 L1613.8,1213.2 L1616.1,1213.5 L1618.4,1213.7 L1620.8,1214.0 L1623.1,1214.2 L1625.4,1214.4 L1627.7,1214.6 L1630.0,1214.7 L1632.4,1214.7 L1634.7,1214.8 L1637.0,1214.9 L1639.4,1215.0 L1641.7,1215.1 L1644.0,1215.2 L1646.3,1215.2 L1648.7,1215.3 L1651.0,1215.4 L1653.3,1215.5 L1655.6,1215.6 L1658.0,1215.7 L1660.3,1215.8 L1662.6,1215.9 L1664.9,1216.0 L1667.3,1216.1 L1669.6,1216.3 L1671.9,1216.4 L1674.2,1216.5 L1676.6,1216.7 L1678.9,1216.8 L1681.2,1216.9 L1683.5,1217.1 L1685.8,1217.2 L1688.2,1217.3 L1690.5,1217.5 L1692.8,1217.6 L1695.1,1217.7 L1697.5,1217.9 L1699.8,1218.0 L1702.1,1218.1 L1704.4,1218.3 L1706.8,1218.4 L1709.1,1218.6 L1711.4,1218.8 L1713.7,1219.0 L1716.0,1219.2 L1718.4,1219.4 L1720.7,1219.6 L1723.0,1219.8 L1725.3,1220.0 L1727.6,1220.2 L1730.0,1220.4 L1732.3,1220.6 L1734.6,1220.9 L1736.9,1221.1 L1739.2,1221.3 L1741.6,1221.4 L1743.9,1221.6 L1746.2,1221.7 L1748.5,1221.9 L1750.9,1222.0 L1753.2,1222.1 L1755.5,1222.2 L1757.8,1222.4 L1760.2,1222.5 L1762.5,1222.6 L1764.8,1222.7 L1767.1,1222.9 L1769.4,1223.0 L1771.8,1223.1 L1774.1,1223.3 L1776.4,1223.4 L1778.7,1223.6 L1781.1,1223.8 L1783.4,1224.0 L1785.7,1224.2 L1788.0,1224.5 L1790.3,1224.7 L1792.6,1224.9 L1795.0,1225.1 L1797.3,1225.3 L1799.6,1225.6 L1801.9,1225.8 L1804.2,1226.0 L1806.6,1226.2 L1808.9,1226.4 L1811.2,1226.5 L1813.5,1226.6 L1815.9,1226.6 L1818.2,1226.7 L1820.5,1226.8 L1822.8,1226.9 L1825.2,1226.9 L1827.5,1227.0 L1829.8,1227.1 L1832.1,1227.1 L1834.5,1227.2 L1836.8,1227.3 L1839.1,1227.4 L1841.4,1227.4 L1843.8,1227.5 L1846.1,1227.6 L1848.4,1227.7 L1850.8,1227.8 L1853.1,1227.9 L1855.4,1228.1 L1857.7,1228.2 L1860.0,1228.4 L1862.4,1228.6 L1864.7,1228.8 L1867.0,1228.9 L1869.3,1229.1 L1871.6,1229.3 L1874.0,1229.5 L1876.3,1229.6 L1878.6,1229.8 L1880.9,1230.0 L1883.3,1230.2 L1885.6,1230.3 L1887.9,1230.5 L1890.2,1230.7 L1892.5,1230.9 L1894.9,1231.0 L1897.2,1231.2 L1899.5,1231.3 L1901.8,1231.3 L1904.2,1231.4 L1906.5,1231.4 L1908.8,1231.5 L1911.1,1231.5 L1913.5,1231.5 L1915.8,1231.6 L1918.1,1231.6 L1920.5,1231.7 L1922.8,1231.7 L1925.1,1231.7 L1927.4,1231.8 L1929.8,1231.8 L1932.1,1231.9 L1934.4,1231.9 L1936.7,1232.0 L1939.1,1232.0" stroke="#00ffff"/>
<path d="M451.6,321.0 L451.8,323.5 L452.0,326.0 L452.1,328.5 L452.3,331.0 L452.5,333.5 L452.6,336.0 L452.8,338.5 L453.0,340.9 L453.1,343.4 L453.3,345.9 L453.5,348.4 L453.7,350.9 L453.9,353.4 L454.1,355.9 L454.3,358.4 L454.5,360.9 L454.7,363.4 L455.0,365.9 L455.2,368.4 L455.4,370.8 L455.6,373.3 L455.8,375.8 L456.0,378.3 L456.2,380.8 L456.5,383.3 L456.7,385.8 L456.9,388.3 L457.1,390.8 L457.3,393.2 L457.5,395.7 L457.8,398.2 L458.0,400.7 L458.2,403.2 L458.5,405.7 L458.7,408.2 L458.9,410.7 L459.2,413.1 L459.4,415.6 L459.7,418.1 L459.9,420.6 L460.2,423.1 L460.4,425.6 L460.6,428.1 L460.9,430.6 L461.1,433.0 L461.4,435.5 L461.6,438.0 L461.9,440.5 L462.1,443.0 L462.3,445.5 L462.6,448.0 L462.8,450.4 L463.1,452.9 L463.3,455.4 L463.5,457.9 L463.8,460.4 L464.0,462.9 L464.2,465.4 L464.5,467.9 L464.7,470.3 L464.9,472.8 L465.1,475.3 L465.4,477.8 L465.6,480.3 L465.8,482.8 L466.1,485.3 L466.3,487.8 L466.5,490.3 L466.8,492.7 L467.0,495.2 L467.2,497.7 L467.5,500.2 L467.8,502.7 L468.1,505.1 L468.5,507.6 L468.8,510.1 L469.1,512.6 L469.5,515.0 L469.8,517.5 L470.2,520.0 L470.5,522.5 L470.8,524.9 L471.2,527.4 L471.5,529.9 L471.8,532.4 L472.2,534.8 L472.5,537.3 L472.8,539.8 L473.2,542.3 L473.5,544.7 L473.9,547.2 L474.2,549.7 L474.5,552.2 L474.8,554.6 L475.2,557.1 L475.5,559.6 L475.8,562.1 L476.1,564.5 L476.4,567.0 L476.8,569.5 L477.1,572.0 L477.4,574.4 L477.7,576.9 L478.0,579.4 L478.4,581.9 L478.7,584.4 L479.0,586.8 L479.3,589.3 L479.6,591.8 L480.0,594.3 L480.3,596.7 L480.6,599.2 L480.9,601.7 L481.1,604.2 L481.4,606.7 L481.7,609.1 L481.9,611.6 L482.2,614.1 L482.5,616.6 L482.7,619.1 L483.0,621.6 L483.3,624.0 L483.5,626.5 L483.8,629.0 L484.1,631.5 L484.3,634.0 L484.6,636.5 L484.9,639.0 L485.1,641.4 L485.4,643.9 L485.7,646.4 L486.0,648.9 L486.3,651.4 L486.6,653.8 L487.0,656.3 L487.4,658.8 L487.7,661.2 L488.1,663.7 L488.5,666.2 L488.8,668.6 L489.2,671.1 L489.6,673.6 L489.9,676.1 L490.3,678.5 L490.7,681.0 L491.0,683.5 L491.4,685.9 L491.8,688.4 L492.1,690.9 L492.5,693.3 L492.9,695.8 L493.3,698.3 L493.7,700.7 L494.1,703.2 L494.6,705.6 L495.1,708.1 L495.6,710.5 L496.1,712.9 L496.6,715.4 L497.1,717.8 L497.6,720.3 L498.1,722.7 L498.6,725.2 L499.1,727.6 L499.6,730.0 L500.1,732.5 L500.6,734.9 L501.1,737.4 L501.6,739.8 L502.1,742.2 L502.6,744.7 L503.1,747.1 L503.7,749.6 L504.3,752.0 L504.9,754.4 L505.6,756.8 L506.2,759.2 L506.8,761.6 L507.5,764.0 L508.1,766.4 L508.8,768.8 L509.4,771.2 L510.1,773.6 L510.7,776.0 L511.3,778.4 L511.8,780.9 L512.4,783.3 L513.0,785.7 L513.5,788.1 L514.1,790.6 L514.6,793.0 L515.2,795.4 L515.8,797.8 L516.4,800.2 L517.1,802.6 L517.9,805.0 L518.7,807.3 L519.4,809.7 L520.2,812.0 L521.0,814.4 L521.7,816.8 L522.5,819.1 L523.3,821.5 L524.2,823.8 L525.2,826.0 L526.3,828.2 L527.6,830.3 L528.8,832.4 L530.1,834.5 L531.4,836.5 L532.9,838.4 L534.6,840.1 L536.4,841.7 L538.2,843.2 L540.1,844.7 L542.0,846.0 L544.1,847.2 L546.2,848.2 L548.3,849.2 L550.4,850.0 L552.7,850.5 L555.0,850.7 L557.3,850.7 L559.6,850.8 L561.9,850.8 L564.2,850.7 L566.6,850.7 L568.9,850.6 L571.2,850.5 L573.5,850.2 L575.8,849.8 L578.1,849.5 L580.4,849.0 L582.6,848.3 L584.8,847.5 L587.0,846.6 L589.1,845.7 L591.3,844.8 L593.5,843.9 L595.7,843.2 L597.9,842.4 L600.1,841.7 L602.4,841.1 L604.6,840.6 L606.9,840.3 L609.2,840.2 L611.6,840.1 L613.9,840.1 L616.2,840.0 L618.5,840.0 L620.9,840.0 L623.2,840.0 L625.5,840.0 L627.8,840.0 L630.2,840.1 L632.4,840.3 L634.6,840.9 L636.8,841.7 L638.9,842.7 L641.0,843.7 L643.2,844.8 L645.3,845.8 L647.4,846.9 L649.5,848.0 L651.6,849.1 L653.6,850.2 L655.7,851.4 L657.7,852.6 L659.7,853.8 L661.8,855.0 L663.8,856.2 L665.9,857.4 L667.9,858.6 L669.9,859.8 L672.0,861.1 L674.0,862.3 L675.9,863.7 L677.9,865.0 L679.8,866.4 L681.7,867.8 L683.7,869.2 L685.6,870.6 L687.5,872.0 L689.4,873.4 L691.4,874.8 L693.3,876.2 L695.2,877.6 L697.2,879.0 L699.2,880.3 L701.2,881.5 L703.2,882.7 L705.3,883.9 L707.3,885.1 L709.4,886.2 L711.5,887.2 L713.6,888.3 L715.7,889.3 L717.9,890.3 L720.0,891.3 L722.2,892.1 L724.4,892.9 L726.6,893.5 L728.9,894.2 L731.1,894.8 L733.4,895.3 L735.7,895.9 L738.0,896.4 L740.2,897.0 L742.5,897.5 L744.8,898.0 L747.0,898.4 L749.3,898.6 L751.6,898.5 L753.9,898.2 L756.2,897.8 L758.5,897.5 L760.8,897.1 L763.1,896.7 L765.4,896.3 L767.7,895.8 L770.0,895.3 L772.2,894.8 L774.5,894.3 L776.8,893.7 L779.0,893.2 L781.3,892.5 L783.4,891.6 L785.5,890.5 L787.5,889.2 L789.5,888.0 L791.5,886.7 L793.5,885.4 L795.5,884.1 L797.5,882.8 L799.4,881.5 L801.3,880.1 L803.2,878.6 L805.1,877.1 L807.0,875.6 L808.8,874.1 L810.7,872.6 L812.5,871.1 L814.4,869.6 L816.3,868.1 L818.1,866.6 L820.0,865.1 L821.8,863.6 L823.6,862.0 L825.3,860.3 L827.0,858.6 L828.7,856.9 L830.4,855.2 L832.1,853.5 L833.8,851.8 L835.5,850.0 L837.1,848.3 L838.8,846.6 L840.5,844.9 L842.2,843.1 L843.9,841.4 L845.5,839.7 L847.2,837.9 L848.7,836.0 L850.3,834.1 L851.8,832.3 L853.3,830.4 L854.9,828.5 L856.4,826.6 L857.9,824.8 L859.5,822.9 L861.0,821.0 L862.5,819.1 L864.1,817.2 L865.6,815.4 L867.1,813.5 L868.7,811.6 L870.2,809.7 L871.8,807.9 L873.3,806.0 L874.9,804.1 L876.4,802.3 L878.0,800.4 L879.6,798.6 L881.1,796.7 L882.7,794.9 L884.2,793.0 L885.8,791.1 L887.3,789.3 L888.9,787.4 L890.4,785.6 L892.0,783.7 L893.4,781.7 L894.8,779.7 L896.2,777.7 L897.5,775.7 L898.8,773.6 L900.2,771.6 L901.5,769.5 L902.8,767.5 L904.2,765.4 L905.5,763.4 L906.9,761.3 L908.2,759.3 L909.5,757.2 L910.9,755.2 L912.2,753.1 L913.5,751.1 L914.9,749.1 L916.2,747.0 L917.6,745.0 L918.9,742.9 L920.3,740.9 L921.6,738.9 L923.0,736.8 L924.3,734.8 L925.7,732.8 L927.0,730.7 L928.4,728.7 L929.7,726.6 L931.0,724.6 L932.4,722.6 L933.7,720.5 L935.1,718.5 L936.4,716.5 L937.8,714.4 L939.1,712.4 L940.5,710.3 L941.8,708.3 L943.2,706.3 L944.5,704.2 L945.9,702.2 L947.4,700.3 L948.9,698.4 L950.6,696.7 L952.2,694.9 L953.9,693.2 L955.5,691.4 L957.2,689.7 L958.9,687.9 L960.5,686.2 L962.2,684.4 L963.9,682.7 L965.5,680.9 L967.2,679.2 L968.9,677.4 L970.5,675.7 L972.2,674.0 L973.9,672.2 L975.5,670.5 L977.2,668.7 L978.8,667.0 L980.5,665.2 L982.2,663.5 L983.8,661.7 L985.5,660.0 L987.1,658.2 L988.7,656.4 L990.3,654.6 L991.9,652.8 L993.6,651.0 L995.2,649.2 L996.8,647.4 L998.4,645.6 L1000.1,643.9 L1002.0,642.4 L1003.9,641.0 L1005.8,639.6 L1007.7,638.2 L1009.7,636.8 L1011.6,635.4 L1013.5,634.0 L1015.5,632.6 L1017.4,631.2 L1019.3,629.8 L1021.3,628.5 L1023.3,627.3 L1025.4,626.3 L1027.6,625.5 L1029.8,624.7 L1032.0,623.9 L1034.2,623.1 L1036.4,622.4 L1038.7,621.9 L1041.0,621.4 L1043.3,621.0 L1045.6,620.7 L1047.9,620.4 L1050.2,620.2 L1052.4,620.5 L1054.7,621.0 L1056.9,621.6 L1059.1,622.4 L1061.3,623.1 L1063.6,623.8 L1065.8,624.6 L1068.0,625.3 L1070.2,626.1 L1072.4,626.8 L1074.6,627.6 L1076.8,628.4 L1079.0,629.2 L1081.1,630.2 L1083.2,631.4 L1085.1,632.8 L1087.0,634.2 L1088.9,635.7 L1090.8,637.1 L1092.7,638.6 L1094.5,640.1 L1096.3,641.7 L1098.1,643.4 L1099.8,645.0 L1101.6,646.6 L1103.4,648.2 L1105.1,649.8 L1106.9,651.4 L1108.7,653.1 L1110.5,654.7 L1112.2,656.3 L1114.0,657.9 L1115.7,659.6 L1117.4,661.4 L1118.9,663.2 L1120.5,665.0 L1122.1,666.9 L1123.6,668.8 L1125.2,670.6 L1126.8,672.5 L1128.3,674.3 L1129.9,676.2 L1131.4,678.0 L1133.0,679.9 L1134.5,681.7 L1136.1,683.6 L1137.7,685.5 L1139.2,687.3 L1140.7,689.3 L1142.0,691.3 L1143.3,693.4 L1144.5,695.5 L1145.6,697.7 L1146.8,699.8 L1148.0,702.0 L1149.2,704.1 L1150.3,706.3 L1151.5,708.5 L1152.7,710.6 L1153.8,712.8 L1155.0,714.9 L1156.2,717.1 L1157.4,719.3 L1158.5,721.4 L1159.7,723.6 L1160.9,725.7 L1162.0,727.9 L1163.2,730.1 L1164.4,732.2 L1165.6,734.4 L1166.7,736.5 L1167.9,738.7 L1169.0,740.9 L1170.2,743.1 L1171.3,745.2 L1172.4,747.4 L1173.6,749.6 L1174.7,751.8 L1175.8,754.0 L1177.0,756.2 L1178.1,758.4 L1179.2,760.6 L1180.3,762.7 L1181.5,764.9 L1182.6,767.1 L1183.7,769.3 L1184.9,771.5 L1186.0,773.7 L1187.1,775.9 L1188.2,778.0 L1189.4,780.2 L1190.5,782.4 L1191.6,784.6 L1192.8,786.8 L1193.9,789.0 L1195.0,791.2 L1196.1,793.3 L1197.3,795.5 L1198.4,797.7 L1199.5,799.9 L1200.7,802.1 L1201.8,804.3 L1202.9,806.5 L1204.0,808.7 L1205.2,810.8 L1206.3,813.0 L1207.4,815.2 L1208.5,817.4 L1209.7,819.6 L1210.8,821.8 L1211.9,824.0 L1213.0,826.2 L1214.2,828.3 L1215.3,830.5 L1216.4,832.7 L1217.6,834.9 L1218.7,837.1 L1219.8,839.3 L1220.8,841.5 L1221.9,843.7 L1222.9,846.0 L1223.9,848.2 L1225.0,850.5 L1226.0,852.7 L1227.0,855.0 L1228.0,857.2 L1229.1,859.5 L1230.1,861.7 L1231.1,863.9 L1232.1,866.2 L1233.2,868.4 L1234.2,870.7 L1235.2,872.9 L1236.2,875.2 L1237.3,877.4 L1238.3,879.7 L1239.3,881.9 L1240.3,884.1 L1241.4,886.4 L1242.4,888.6 L1243.4,890.9 L1244.5,893.1 L1245.6,895.3 L1246.6,897.5 L1247.7,899.8 L1248.7,902.0 L1249.8,904.2 L1250.9,906.4 L1251.9,908.7 L1253.0,910.9 L1254.1,913.1 L1255.1,915.3 L1256.2,917.6 L1257.2,919.8 L1258.3,922.0 L1259.4,924.2 L1260.4,926.5 L1261.5,928.7 L1262.5,930.9 L1263.6,933.1 L1264.7,935.4 L1265.7,937.6 L1266.8,939.8 L1267.9,942.0 L1269.0,944.2 L1270.1,946.4 L1271.3,948.6 L1272.4,950.8 L1273.5,953.0 L1274.6,955.1 L1275.8,957.3 L1276.9,959.5 L1278.0,961.7 L1279.1,963.9 L1280.2,966.1 L1281.4,968.3 L1282.5,970.5 L1283.6,972.7 L1284.7,974.9 L1285.8,977.1 L1287.0,979.2 L1288.1,981.4 L1289.2,983.6 L1290.3,985.8 L1291.5,988.0 L1292.7,990.1 L1294.0,992.2 L1295.4,994.2 L1296.7,996.2 L1298.1,998.2 L1299.5,1000.2 L1300.9,1002.3 L1302.2,1004.3 L1303.6,1006.3 L1305.0,1008.3 L1306.4,1010.3 L1307.8,1012.3 L1309.1,1014.3 L1310.5,1016.4 L1311.9,1018.4 L1313.2,1020.4 L1314.6,1022.4 L1315.9,1024.5 L1317.2,1026.6 L1318.6,1028.6 L1319.9,1030.7 L1321.2,1032.7 L1322.5,1034.8 L1323.8,1036.8 L1325.2,1038.9 L1326.5,1041.0 L1327.8,1043.0 L1329.2,1045.0 L1330.6,1047.0 L1332.1,1048.9 L1333.6,1050.9 L1335.1,1052.8 L1336.5,1054.7 L1338.0,1056.6 L1339.5,1058.6 L1341.0,1060.5 L1342.5,1062.4 L1343.9,1064.4 L1345.4,1066.3 L1346.9,1068.2 L1348.3,1070.2 L1349.8,1072.2 L1351.2,1074.1 L1352.6,1076.1 L1353.9,1078.1 L1355.3,1080.2 L1356.7,1082.2 L1358.1,1084.2 L1359.5,1086.2 L1360.9,1088.2 L1362.3,1090.2 L1363.7,1092.2 L1365.2,1094.1 L1366.7,1096.0 L1368.2,1097.9 L1369.8,1099.7 L1371.4,1101.5 L1373.0,1103.4 L1374.5,1105.2 L1376.1,1107.0 L1377.7,1108.8 L1379.3,1110.7 L1380.9,1112.5 L1382.5,1114.3 L1384.1,1116.1 L1385.7,1118.0 L1387.3,1119.7 L1389.0,1121.5 L1390.7,1123.1 L1392.4,1124.8 L1394.2,1126.5 L1395.9,1128.2 L1397.6,1129.8 L1399.4,1131.5 L1401.1,1133.2 L1402.8,1134.8 L1404.6,1136.5 L1406.3,1138.2 L1408.0,1139.8 L1409.8,1141.5 L1411.5,1143.2 L1413.2,1144.8 L1415.0,1146.5 L1416.7,1148.1 L1418.5,1149.7 L1420.4,1151.2 L1422.3,1152.6 L1424.2,1154.0 L1426.2,1155.4 L1428.1,1156.8 L1430.1,1158.1 L1432.0,1159.5 L1433.9,1160.9 L1435.9,1162.3 L1437.8,1163.6 L1439.8,1165.0 L1441.8,1166.3 L1443.8,1167.5 L1445.9,1168.7 L1447.9,1169.8 L1450.0,1170.9 L1452.1,1172.0 L1454.2,1173.2 L1456.2,1174.3 L1458.3,1175.4 L1460.4,1176.5 L1462.5,1177.6 L1464.6,1178.7 L1466.7,1179.7 L1468.9,1180.6 L1471.1,1181.4 L1473.3,1182.3 L1475.4,1183.2 L1477.6,1184.0 L1479.8,1184.9 L1482.0,1185.7 L1484.2,1186.6 L1486.4,1187.4 L1488.6,1188.2 L1490.8,1188.9 L1493.0,1189.6 L1495.3,1190.2 L1497.6,1190.8 L1499.8,1191.4 L1502.1,1192.1 L1504.3,1192.7 L1506.6,1193.3 L1508.8,1194.0 L1511.1,1194.6 L1513.3,1195.2 L1515.6,1195.8 L1517.8,1196.4 L1520.1,1197.0 L1522.3,1197.6 L1524.6,1198.2 L1526.8,1198.8 L1529.1,1199.4 L1531.4,1200.0 L1533.6,1200.6 L1535.9,1201.1 L1538.2,1201.5 L1540.5,1201.9 L1542.8,1202.3 L1545.1,1202.6 L1547.4,1203.0 L1549.7,1203.5 L1552.0,1203.9 L1554.2,1204.4 L1556.5,1204.9 L1558.8,1205.3 L1561.1,1205.7 L1563.4,1206.0 L1565.7,1206.3 L1568.0,1206.6 L1570.3,1206.9 L1572.7,1207.3 L1575.0,1207.6 L1577.3,1207.9 L1579.6,1208.2 L1581.9,1208.5 L1584.2,1208.8 L1586.5,1209.1 L1588.8,1209.4 L1591.1,1209.7 L1593.4,1210.1 L1595.7,1210.4 L1598.0,1210.7 L1600.3,1211.0 L1602.7,1211.3 L1605.0,1211.6 L1607.3,1211.9 L1609.6,1212.2 L1611.9,1212.6 L1614.2,1212.9 L1616.5,1213.2 L1618.8,1213.5 L1621.1,1213.8 L1623.4,1214.1 L1625.7,1214.4 L1628.1,1214.6 L1630.4,1214.8 L1632.7,1215.0 L1635.0,1215.2 L1637.3,1215.4 L1639.6,1215.6 L1642.0,1215.9 L1644.3,1216.1 L1646.6,1216.3 L1648.9,1216.5 L1651.2,1216.7 L1653.5,1216.9 L1655.9,1217.1 L1658.2,1217.3 L1660.5,1217.5 L1662.8,1217.7 L1665.1,1217.8 L1667.5,1218.0 L1669.8,1218.2 L1672.1,1218.4 L1674.4,1218.5 L1676.7,1218.7 L1679.1,1218.9 L1681.4,1219.0 L1683.7,1219.2 L1686.0,1219.4 L1688.3,1219.5 L1690.7,1219.7 L1693.0,1219.9 L1695.3,1220.0 L1697.6,1220.2 L1699.9,1220.4 L1702.3,1220.6 L1704.6,1220.7 L1706.9,1220.9 L1709.2,1221.1 L1711.5,1221.3 L1713.9,1221.5 L1716.2,1221.7 L1718.5,1221.9 L1720.8,1222.1 L1723.1,1222.3 L1725.5,1222.5 L1727.8,1222.7 L1730.1,1223.0 L1732.4,1223.2 L1734.7,1223.4 L1737.0,1223.6 L1739.4,1223.8 L1741.7,1224.0 L1744.0,1224.1 L1746.3,1224.2 L1748.6,1224.4 L1751.0,1224.5 L1753.3,1224.6 L1755.6,1224.7 L1757.9,1224.9 L1760.3,1225.0 L1762.6,1225.1 L1764.9,1225.3 L1767.2,1225.4 L1769.6,1225.5 L1771.9,1225.6 L1774.2,1225.8 L1776.5,1225.9 L1778.8,1226.1 L1781.2,1226.3 L1783.5,1226.5 L1785.8,1226.8 L1788.1,1227.0 L1790.4,1227.2 L1792.7,1227.4 L1795.1,1227.6 L1797.4,1227.9 L1799.7,1228.1 L1802.0,1228.3 L1804.3,1228.5 L1806.6,1228.7 L1809.0,1228.9 L1811.3,1229.0 L1813.6,1229.1 L1815.9,1229.1 L1818.3,1229.2 L1820.6,1229.3 L1822.9,1229.4 L1825.2,1229.4 L1827.6,1229.5 L1829.9,1229.6 L1832.2,1229.7 L1834.5,1229.7 L1836.9,1229.8 L1839.2,1229.9 L1841.5,1229.9 L1843.8,1230.0 L1846.2,1230.1 L1848.5,1230.2 L1850.8,1230.3 L1853.1,1230.4 L1855.4,1230.6 L1857.8,1230.7 L1860.1,1230.9 L1862.4,1231.1 L1864.7,1231.3 L1867.0,1231.4 L1869.4,1231.6 L1871.7,1231.8 L1874.0,1232.0 L1876.3,1232.1 L1878.7,1232.3 L1881.0,1232.5 L1883.3,1232.7 L1885.6,1232.8 L1887.9,1233.0 L1890.3,1233.2 L1892.6,1233.4 L1894.9,1233.5 L1897.2,1233.7 L1899.5,1233.8 L1901.9,1233.8 L1904.2,1233.9 L1906.5,1233.9 L1908.8,1234.0 L1911.2,1234.0 L1913.5,1234.0 L1915.8,1234.1 L1918.1,1234.1 L1920.5,1234.2 L1922.8,1234.2 L1925.1,1234.2 L1927.4,1234.3 L1929.8,1234.3 L1932.1,1234.4 L1934.4,1234.4 L1936.7,1234.5 L1939.1,1234.5" stroke="#ff00ff"/>
</g>
<g class="ax" stroke-width="6">
<line x1="352" y1="42" x2="352" y2="1311"/>
<line x1="352" y1="1311" x2="2218" y2="1311"/>
<line x1="324" y1="1241.0" x2="352" y2="1241.0"/>
<line x1="338" y1="1100.0" x2="352" y2="1100.0"/>
<line x1="324" y1="959.0" x2="352" y2="959.0"/>
<line x1="338" y1="818.0" x2="352" y2="818.0"/>
<line x1="324" y1="677.0" x2="352" y2="677.0"/>
<line x1="338" y1="536.0" x2="352" y2="536.0"/>
<line x1="324" y1="395.0" x2="352" y2="395.0"/>
<line x1="338" y1="254.0" x2="352" y2="254.0"/>
<line x1="324" y1="113.0" x2="352" y2="113.0"/>
<line x1="352.0" y1="1311" x2="352.0" y2="1324"/>
<line x1="485.3" y1="1311" x2="485.3" y2="1336"/>
<line x1="618.6" y1="1311" x2="618.6" y2="1324"/>
<line x1="751.9" y1="1311" x2="751.9" y2="1336"/>
<line x1="885.1" y1="1311" x2="885.1" y2="1324"/>
<line x1="1018.4" y1="1311" x2="1018.4" y2="1336"/>
<line x1="1151.7" y1="1311" x2="1151.7" y2="1324"/>
<line x1="1285.0" y1="1311" x2="1285.0" y2="1336"/>
<line x1="1418.3" y1="1311" x2="1418.3" y2="1324"/>
<line x1="1551.6" y1="1311" x2="1551.6" y2="1336"/>
<line x1="1684.9" y1="1311" x2="1684.9" y2="1324"/>
<line x1="1818.1" y1="1311" x2="1818.1" y2="1336"/>
<line x1="1951.4" y1="1311" x2="1951.4" y2="1324"/>
<line x1="2084.7" y1="1311" x2="2084.7" y2="1336"/>
<line x1="2218.0" y1="1311" x2="2218.0" y2="1324"/>
</g>
<g transform="translate(196.40,1260.30) scale(1.0342,1)"><text font-size="76">0.0</text></g>
<g transform="translate(196.40,978.30) scale(1.0342,1)"><text font-size="76">0.1</text><rect x="65.98" y="-9.26" width="15.07" height="10.76" fill="#fff"/><rect x="91.62" y="-9.26" width="14.44" height="10.76" fill="#fff"/></g>
<g transform="translate(196.40,696.30) scale(1.0342,1)"><text font-size="76">0.2</text></g>
<g transform="translate(196.40,414.30) scale(1.0342,1)"><text font-size="76">0.3</text></g>
<g transform="translate(196.40,132.30) scale(1.0342,1)"><text font-size="76">0.4</text></g>
<g transform="translate(422.18,1410.30) scale(1.0145,1)"><text font-size="76">300</text></g>
<g transform="translate(688.75,1410.30) scale(1.0145,1)"><text font-size="76">350</text></g>
<g transform="translate(955.33,1410.30) scale(1.0145,1)"><text font-size="76">400</text></g>
<g transform="translate(1221.90,1410.30) scale(1.0145,1)"><text font-size="76">450</text></g>
<g transform="translate(1488.47,1410.30) scale(1.0145,1)"><text font-size="76">500</text></g>
<g transform="translate(1755.04,1410.30) scale(1.0145,1)"><text font-size="76">550</text></g>
<g transform="translate(2021.61,1410.30) scale(1.0145,1)"><text font-size="76">600</text></g>
<text transform="translate(774.32,1541.30) scale(1.1080,1)" font-size="100">wavelength(nm)</text>
<text transform="translate(144,1056.96) rotate(-90) scale(1.1070,1)" font-size="100" style="letter-spacing:-4.19px"><tspan font-size="105.0" style="letter-spacing:-8.19px">A</tspan>bsorbance</text>
<rect x="1496.5" y="41" width="727" height="679.5" fill="#ffffff" stroke="#000" stroke-width="5"/>
<line x1="1569" y1="151" x2="1758" y2="151" stroke="#000000" stroke-width="14" stroke-linecap="round"/>
<g transform="translate(1778.20,175.00) scale(1.0286,1)"><text font-size="70">25 ppm AY</text></g>
<line x1="1569" y1="234" x2="1758" y2="234" stroke="#00ff00" stroke-width="14" stroke-linecap="round"/>
<g transform="translate(1778.20,258.50) scale(1.0286,1)"><text font-size="70">3% CeO<tspan x="263.79" dy="25.7" font-size="42.5">2</tspan></text></g>
<line x1="1569" y1="325" x2="1758" y2="325" stroke="#ff0000" stroke-width="14" stroke-linecap="round"/>
<g transform="translate(1778.20,349.30) scale(1.0286,1)"><text font-size="70">5% CeO<tspan x="263.79" dy="25.7" font-size="42.5">2</tspan></text></g>
<line x1="1569" y1="416" x2="1758" y2="416" stroke="#0000ff" stroke-width="14" stroke-linecap="round"/>
<g transform="translate(1778.20,440.20) scale(1.0286,1)"><text font-size="70">7% CeO<tspan x="263.79" dy="25.7" font-size="42.5">2</tspan></text></g>
<line x1="1569" y1="507" x2="1758" y2="507" stroke="#00ffff" stroke-width="14" stroke-linecap="round"/>
<g transform="translate(1778.20,531.00) scale(1.0286,1)"><text font-size="70">100% SnO<tspan x="341.47" dy="25.7" font-size="42.5">2</tspan></text><rect x="2.39" y="-8.64" width="13.88" height="10.14" fill="#fff"/><rect x="26.01" y="-8.64" width="13.30" height="10.14" fill="#fff"/></g>
<line x1="1569" y1="598" x2="1758" y2="598" stroke="#ff00ff" stroke-width="14" stroke-linecap="round"/>
<g transform="translate(1778.20,621.90) scale(1.0286,1)"><text font-size="70">100% CeO<tspan x="341.47" dy="25.7" font-size="42.5">2</tspan></text><rect x="2.39" y="-8.64" width="13.88" height="10.14" fill="#fff"/><rect x="26.01" y="-8.64" width="13.30" height="10.14" fill="#fff"/></g>
</svg>
</body></html>
